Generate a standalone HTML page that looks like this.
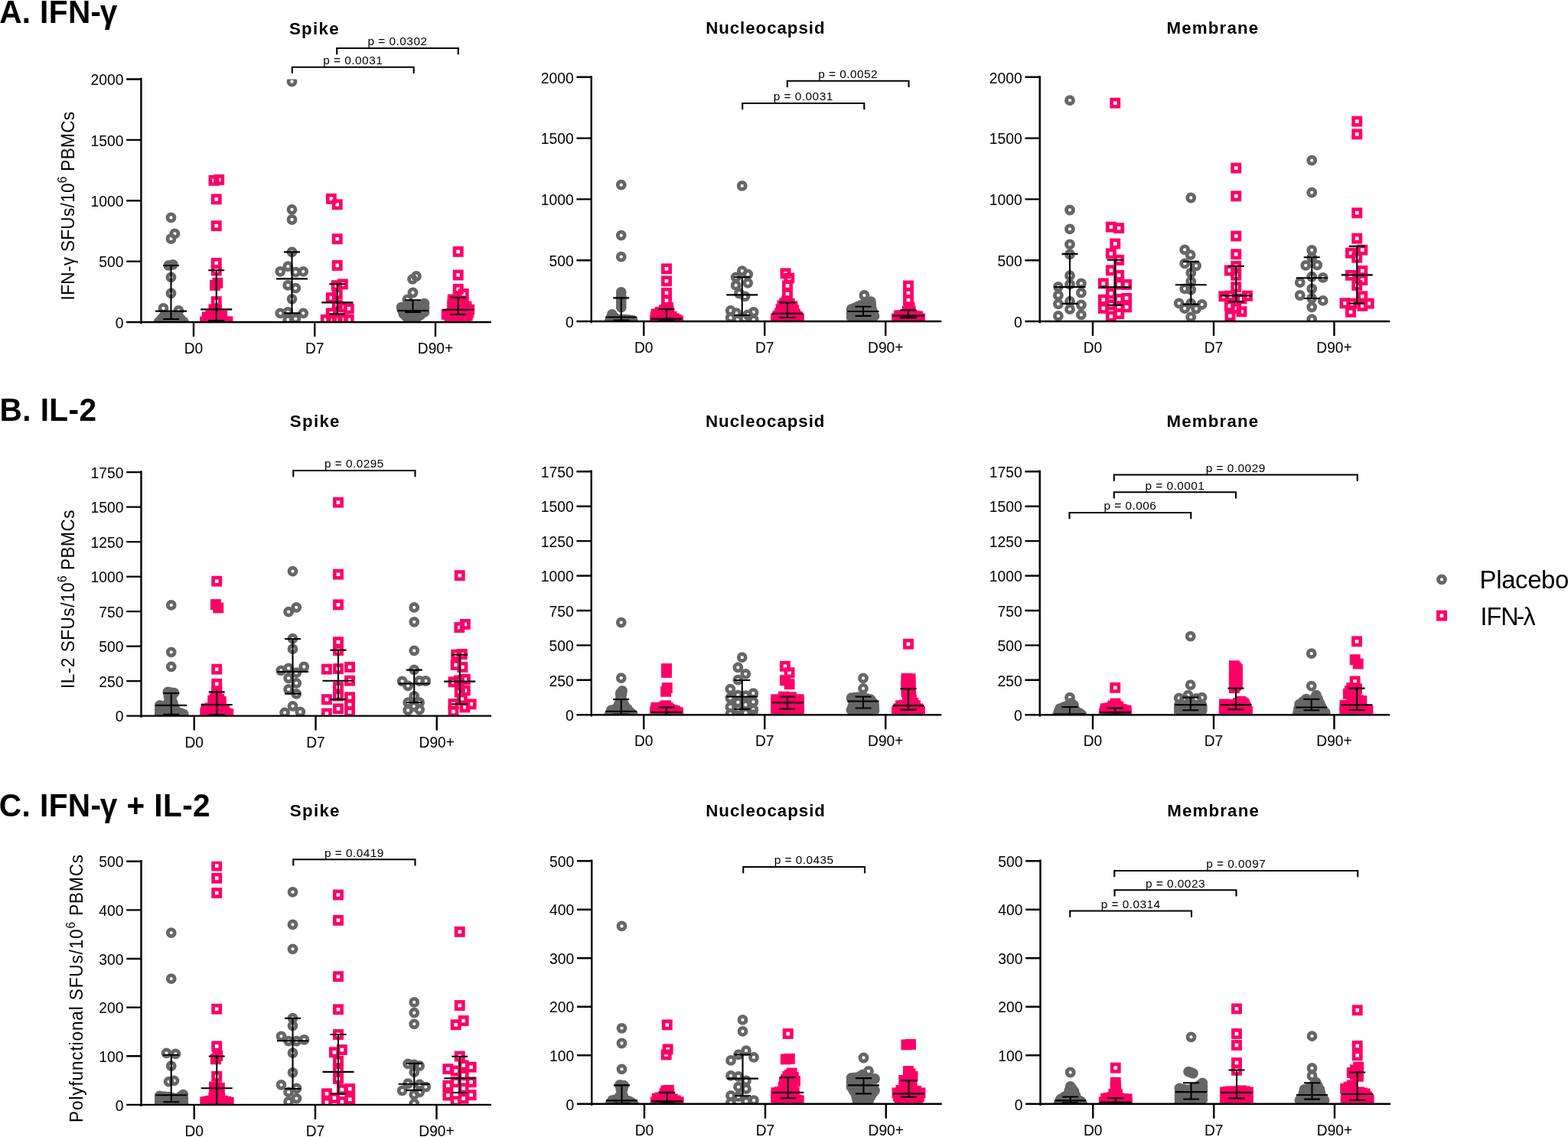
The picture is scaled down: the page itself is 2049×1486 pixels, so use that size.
<!DOCTYPE html>
<html lang="en">
<head>
<meta charset="utf-8">
<title>IFN-γ, IL-2 and polyfunctional SFUs by antigen</title>
<style>
html,body{margin:0;padding:0;background:#fff;}
body{width:2049px;height:1486px;overflow:hidden;}
svg{display:block;}
text{white-space:pre;}
</style>
</head>
<body>
<svg xmlns="http://www.w3.org/2000/svg" width="2049" height="1486" viewBox="0 0 2049 1486" font-family='"Liberation Sans", Arial, Helvetica, sans-serif' fill="#000">
<rect width="2049" height="1486" fill="#fff"/>
<clipPath id="cp0"><rect x="164.45" y="103.5" width="497.5" height="317.5"/></clipPath>
<g clip-path="url(#cp0)" fill="none">
<g stroke="#666666" stroke-width="4.75">
<circle cx="223.5" cy="284.4" r="4.52"/>
<circle cx="228.4" cy="305.4" r="4.52"/>
<circle cx="223.5" cy="312" r="4.52"/>
<circle cx="223.5" cy="362.3" r="4.52"/>
<circle cx="223.5" cy="383.3" r="4.52"/>
<circle cx="213.5" cy="402.9" r="4.52"/>
<circle cx="233.4" cy="406" r="4.52"/>
</g>
<g stroke="#666666" stroke-width="4.75" fill="#666666">
<circle cx="220.3" cy="346.9" r="4.52"/>
<circle cx="226" cy="345.8" r="4.52"/>
<circle cx="215" cy="412.4" r="4.52"/>
<circle cx="231.7" cy="412.4" r="4.52"/>
<circle cx="207.5" cy="420.9" r="4.52"/>
<circle cx="218.5" cy="419.9" r="4.52"/>
<circle cx="228.5" cy="419.9" r="4.52"/>
<circle cx="240" cy="420.9" r="4.52"/>
<circle cx="223.5" cy="416.4" r="4.52"/>
<circle cx="211.25" cy="416.65" r="4.52"/>
<circle cx="216.75" cy="416.15" r="4.52"/>
<circle cx="219.25" cy="414.4" r="4.52"/>
<circle cx="230.1" cy="416.15" r="4.52"/>
<circle cx="235.85" cy="416.65" r="4.52"/>
<circle cx="227.6" cy="414.4" r="4.52"/>
<circle cx="213" cy="420.4" r="4.52"/>
<circle cx="223.5" cy="419.9" r="4.52"/>
<circle cx="221" cy="418.15" r="4.52"/>
<circle cx="234.25" cy="420.4" r="4.52"/>
<circle cx="226" cy="418.15" r="4.52"/>
</g>
<g stroke="#FF0066" stroke-width="4.65">
<rect x="274.88" y="231.28" width="9.25" height="9.25"/>
<rect x="281.62" y="230.28" width="9.25" height="9.25"/>
<rect x="278.12" y="255.77" width="9.25" height="9.25"/>
<rect x="278.12" y="290.52" width="9.25" height="9.25"/>
<rect x="278.12" y="339.27" width="9.25" height="9.25"/>
<rect x="278.12" y="348.88" width="9.25" height="9.25"/>
<rect x="278.12" y="389.52" width="9.25" height="9.25"/>
</g>
<g stroke="#FF0066" stroke-width="4.65" fill="#FF0066">
<rect x="276.38" y="368.27" width="9.25" height="9.25"/>
<rect x="279.73" y="365.17" width="9.25" height="9.25"/>
<rect x="274.82" y="399.77" width="9.25" height="9.25"/>
<rect x="278.43" y="400.27" width="9.25" height="9.25"/>
<rect x="270.62" y="407.77" width="9.25" height="9.25"/>
<rect x="285.62" y="407.77" width="9.25" height="9.25"/>
<rect x="266.12" y="409.77" width="9.25" height="9.25"/>
<rect x="275.12" y="408.77" width="9.25" height="9.25"/>
<rect x="281.12" y="409.77" width="9.25" height="9.25"/>
<rect x="263.52" y="415.77" width="9.25" height="9.25"/>
<rect x="268.12" y="415.77" width="9.25" height="9.25"/>
<rect x="273.12" y="415.77" width="9.25" height="9.25"/>
<rect x="278.12" y="415.77" width="9.25" height="9.25"/>
<rect x="283.12" y="415.77" width="9.25" height="9.25"/>
<rect x="288.12" y="415.77" width="9.25" height="9.25"/>
<rect x="292.82" y="415.77" width="9.25" height="9.25"/>
</g>
<g stroke="#666666" stroke-width="4.75">
<circle cx="381.5" cy="106.7" r="4.52"/>
<circle cx="381.5" cy="273.8" r="4.52"/>
<circle cx="381.5" cy="287" r="4.52"/>
<circle cx="381.5" cy="329.4" r="4.52"/>
<circle cx="376.25" cy="348.15" r="4.52"/>
<circle cx="366.25" cy="354.8" r="4.52"/>
<circle cx="386.25" cy="355.65" r="4.52"/>
<circle cx="396.25" cy="354.8" r="4.52"/>
<circle cx="376.25" cy="372.9" r="4.52"/>
<circle cx="386.25" cy="376.65" r="4.52"/>
<circle cx="381.5" cy="390.8" r="4.52"/>
<circle cx="366.25" cy="409.4" r="4.52"/>
<circle cx="376.25" cy="407.9" r="4.52"/>
<circle cx="396.25" cy="409.4" r="4.52"/>
<circle cx="376.25" cy="417.9" r="4.52"/>
<circle cx="386.25" cy="416.65" r="4.52"/>
</g>
<g stroke="#FF0066" stroke-width="4.65">
<rect x="428.23" y="255.17" width="9.25" height="9.25"/>
<rect x="436.12" y="262.67" width="9.25" height="9.25"/>
<rect x="436.12" y="307.67" width="9.25" height="9.25"/>
<rect x="436.12" y="342.27" width="9.25" height="9.25"/>
<rect x="443.23" y="366.77" width="9.25" height="9.25"/>
<rect x="435.12" y="368.52" width="9.25" height="9.25"/>
<rect x="436.12" y="379.52" width="9.25" height="9.25"/>
<rect x="428.12" y="384.52" width="9.25" height="9.25"/>
<rect x="436.12" y="393.77" width="9.25" height="9.25"/>
<rect x="451.12" y="398.77" width="9.25" height="9.25"/>
<rect x="442.12" y="396.77" width="9.25" height="9.25"/>
<rect x="428.12" y="404.77" width="9.25" height="9.25"/>
<rect x="421.12" y="413.27" width="9.25" height="9.25"/>
<rect x="436.12" y="413.27" width="9.25" height="9.25"/>
<rect x="451.12" y="413.27" width="9.25" height="9.25"/>
<rect x="428.62" y="412.77" width="9.25" height="9.25"/>
<rect x="443.62" y="412.77" width="9.25" height="9.25"/>
</g>
<g stroke="#666666" stroke-width="4.75">
<circle cx="544" cy="361" r="4.52"/>
<circle cx="539" cy="364.8" r="4.52"/>
<circle cx="539.5" cy="382.5" r="4.52"/>
<circle cx="532.5" cy="391.4" r="4.52"/>
</g>
<g stroke="#666666" stroke-width="4.75" fill="#666666">
<circle cx="554.5" cy="396.65" r="4.52"/>
<circle cx="524.5" cy="401.65" r="4.52"/>
<circle cx="534.5" cy="398.4" r="4.52"/>
<circle cx="544.5" cy="400.4" r="4.52"/>
<circle cx="539.5" cy="405.4" r="4.52"/>
<circle cx="529.5" cy="407.4" r="4.52"/>
<circle cx="549.5" cy="406.4" r="4.52"/>
<circle cx="554.5" cy="407.9" r="4.52"/>
<circle cx="527.5" cy="410.4" r="4.52"/>
<circle cx="534.5" cy="417.3" r="4.52"/>
<circle cx="544.5" cy="415.4" r="4.52"/>
<circle cx="539.5" cy="411.4" r="4.52"/>
<circle cx="547.5" cy="411.4" r="4.52"/>
<circle cx="549.5" cy="398.52" r="4.52"/>
<circle cx="552" cy="401.52" r="4.52"/>
<circle cx="554.5" cy="402.28" r="4.52"/>
<circle cx="529.5" cy="400.02" r="4.52"/>
<circle cx="527" cy="404.52" r="4.52"/>
<circle cx="526" cy="406.02" r="4.52"/>
<circle cx="539.5" cy="399.4" r="4.52"/>
<circle cx="537" cy="401.9" r="4.52"/>
<circle cx="532" cy="402.9" r="4.52"/>
<circle cx="542" cy="402.9" r="4.52"/>
<circle cx="547" cy="403.4" r="4.52"/>
<circle cx="549.5" cy="404.15" r="4.52"/>
<circle cx="542" cy="405.9" r="4.52"/>
<circle cx="546" cy="405.9" r="4.52"/>
<circle cx="534.5" cy="406.4" r="4.52"/>
<circle cx="544.5" cy="405.9" r="4.52"/>
<circle cx="542" cy="410.4" r="4.52"/>
<circle cx="539.5" cy="408.4" r="4.52"/>
<circle cx="543.5" cy="408.4" r="4.52"/>
<circle cx="532" cy="412.35" r="4.52"/>
<circle cx="534.5" cy="409.4" r="4.52"/>
<circle cx="547" cy="410.9" r="4.52"/>
<circle cx="544.5" cy="408.9" r="4.52"/>
<circle cx="549.5" cy="411.65" r="4.52"/>
<circle cx="551" cy="409.65" r="4.52"/>
<circle cx="531" cy="413.85" r="4.52"/>
<circle cx="533.5" cy="410.9" r="4.52"/>
<circle cx="539.5" cy="416.35" r="4.52"/>
<circle cx="537" cy="414.35" r="4.52"/>
<circle cx="542" cy="413.4" r="4.52"/>
<circle cx="543.5" cy="411.4" r="4.52"/>
</g>
<g stroke="#FF0066" stroke-width="4.65">
<rect x="594.12" y="324.27" width="9.25" height="9.25"/>
<rect x="594.12" y="354.88" width="9.25" height="9.25"/>
<rect x="594.12" y="373.27" width="9.25" height="9.25"/>
<rect x="601.12" y="379.52" width="9.25" height="9.25"/>
</g>
<g stroke="#FF0066" stroke-width="4.65" fill="#FF0066">
<rect x="587.12" y="386.77" width="9.25" height="9.25"/>
<rect x="594.12" y="388.77" width="9.25" height="9.25"/>
<rect x="601.12" y="391.77" width="9.25" height="9.25"/>
<rect x="586.62" y="395.77" width="9.25" height="9.25"/>
<rect x="594.12" y="397.77" width="9.25" height="9.25"/>
<rect x="608.62" y="400.17" width="9.25" height="9.25"/>
<rect x="579.12" y="406.38" width="9.25" height="9.25"/>
<rect x="589.12" y="404.77" width="9.25" height="9.25"/>
<rect x="599.12" y="405.77" width="9.25" height="9.25"/>
<rect x="606.12" y="407.77" width="9.25" height="9.25"/>
<rect x="586.62" y="411.77" width="9.25" height="9.25"/>
<rect x="594.12" y="412.77" width="9.25" height="9.25"/>
<rect x="601.62" y="411.77" width="9.25" height="9.25"/>
<rect x="591.12" y="391.77" width="9.25" height="9.25"/>
<rect x="597.12" y="394.77" width="9.25" height="9.25"/>
<rect x="591.12" y="400.77" width="9.25" height="9.25"/>
<rect x="598.12" y="402.77" width="9.25" height="9.25"/>
<rect x="590.62" y="387.77" width="9.25" height="9.25"/>
<rect x="586.88" y="391.27" width="9.25" height="9.25"/>
<rect x="589.12" y="389.27" width="9.25" height="9.25"/>
<rect x="597.62" y="390.27" width="9.25" height="9.25"/>
<rect x="590.38" y="392.27" width="9.25" height="9.25"/>
<rect x="594.12" y="393.27" width="9.25" height="9.25"/>
<rect x="595.62" y="391.77" width="9.25" height="9.25"/>
<rect x="592.62" y="394.77" width="9.25" height="9.25"/>
<rect x="597.62" y="394.77" width="9.25" height="9.25"/>
<rect x="604.88" y="395.97" width="9.25" height="9.25"/>
<rect x="596.12" y="391.77" width="9.25" height="9.25"/>
<rect x="599.62" y="397.27" width="9.25" height="9.25"/>
<rect x="590.38" y="396.77" width="9.25" height="9.25"/>
<rect x="587.88" y="400.27" width="9.25" height="9.25"/>
<rect x="588.88" y="393.77" width="9.25" height="9.25"/>
<rect x="591.88" y="395.27" width="9.25" height="9.25"/>
<rect x="588.88" y="398.27" width="9.25" height="9.25"/>
<rect x="591.62" y="401.27" width="9.25" height="9.25"/>
<rect x="596.62" y="401.77" width="9.25" height="9.25"/>
<rect x="592.62" y="394.77" width="9.25" height="9.25"/>
<rect x="596.12" y="400.27" width="9.25" height="9.25"/>
<rect x="603.88" y="402.97" width="9.25" height="9.25"/>
<rect x="607.38" y="403.97" width="9.25" height="9.25"/>
<rect x="603.38" y="401.47" width="9.25" height="9.25"/>
<rect x="584.12" y="405.57" width="9.25" height="9.25"/>
<rect x="582.88" y="409.07" width="9.25" height="9.25"/>
<rect x="594.12" y="405.27" width="9.25" height="9.25"/>
<rect x="587.88" y="408.27" width="9.25" height="9.25"/>
<rect x="591.62" y="408.77" width="9.25" height="9.25"/>
<rect x="593.62" y="403.77" width="9.25" height="9.25"/>
<rect x="602.62" y="406.77" width="9.25" height="9.25"/>
<rect x="596.62" y="409.27" width="9.25" height="9.25"/>
<rect x="600.38" y="408.77" width="9.25" height="9.25"/>
<rect x="598.12" y="400.27" width="9.25" height="9.25"/>
<rect x="595.12" y="403.27" width="9.25" height="9.25"/>
<rect x="603.88" y="409.77" width="9.25" height="9.25"/>
<rect x="602.12" y="405.27" width="9.25" height="9.25"/>
<rect x="590.38" y="412.27" width="9.25" height="9.25"/>
<rect x="588.88" y="406.27" width="9.25" height="9.25"/>
<rect x="597.88" y="412.27" width="9.25" height="9.25"/>
<rect x="592.62" y="406.77" width="9.25" height="9.25"/>
<rect x="596.12" y="407.77" width="9.25" height="9.25"/>
<rect x="599.88" y="407.27" width="9.25" height="9.25"/>
<rect x="594.12" y="393.27" width="9.25" height="9.25"/>
<rect x="591.12" y="396.27" width="9.25" height="9.25"/>
<rect x="594.12" y="397.77" width="9.25" height="9.25"/>
<rect x="597.62" y="398.77" width="9.25" height="9.25"/>
<rect x="594.62" y="401.77" width="9.25" height="9.25"/>
</g>
</g>
<g stroke="#000" stroke-width="2.1" fill="none">
<path d="M203 406.65H244M223.5 347V417M213 347H234M213 417H234"/>
<path d="M262.25 404.4H303.25M282.75 353.3V419.15M272.25 353.3H293.25M272.25 419.15H293.25"/>
<path d="M361 364.4H402M381.5 329.4V409.4M371 329.4H392M371 409.4H392"/>
<path d="M420.25 395.4H461.25M440.75 371.3V410.4M430.25 371.3H451.25M430.25 410.4H451.25"/>
<path d="M519 406H560M539.5 392.3V407.9M529 392.3H550M529 407.9H550"/>
<path d="M578.25 404.8H619.25M598.75 388.8V411M588.25 388.8H609.25M588.25 411H609.25"/>
</g>
<g stroke="#000" stroke-width="2.4" fill="none">
<path d="M184.45 101.7V423.2M165.15 421H641.95M165.15 341.62H184.45M165.15 262.25H184.45M165.15 182.88H184.45M165.15 103.5H184.45M253 421V440M411.25 421V440M569 421V440"/>
</g>
<g font-size="19.3" text-anchor="end">
<text transform="translate(161.45 428.7) scale(1 1.06)">0</text>
<text transform="translate(161.45 349.32) scale(1 1.06)">500</text>
<text transform="translate(161.45 269.95) scale(1 1.06)">1000</text>
<text transform="translate(161.45 190.57) scale(1 1.06)">1500</text>
<text transform="translate(161.45 111.2) scale(1 1.06)">2000</text>
</g>
<g font-size="19.2" text-anchor="middle">
<text transform="translate(253 461.9) scale(1 1.05)">D0</text>
<text transform="translate(411.25 461.9) scale(1 1.05)">D7</text>
<text transform="translate(569 461.9) scale(1 1.05)">D90+</text>
</g>
<text transform="translate(410.9 44.7) scale(1 1.02)" font-size="22.3" text-anchor="middle" font-weight="bold" letter-spacing="1.3">Spike</text>
<text transform="translate(96.7 269) rotate(-90) scale(1 1.09)" font-size="22.6" text-anchor="middle" letter-spacing="0.3">IFN-γ SFUs/10<tspan dy="-9" font-size="15.5">6</tspan><tspan dy="9"> PBMCs</tspan></text>
<clipPath id="cp1"><rect x="752.75" y="100.8" width="497.5" height="319.2"/></clipPath>
<g clip-path="url(#cp1)" fill="none">
<g stroke="#666666" stroke-width="4.75">
<circle cx="811.75" cy="241.65" r="4.52"/>
<circle cx="811.75" cy="307.65" r="4.52"/>
<circle cx="811.75" cy="335.65" r="4.52"/>
</g>
<g stroke="#666666" stroke-width="4.75" fill="#666666">
<circle cx="811.75" cy="382" r="4.52"/>
<circle cx="811.75" cy="387.4" r="4.52"/>
<circle cx="811.75" cy="393.9" r="4.52"/>
<circle cx="811.75" cy="401.65" r="4.52"/>
<circle cx="799.85" cy="411" r="4.52"/>
<circle cx="796.75" cy="419.9" r="4.52"/>
<circle cx="803.75" cy="418.4" r="4.52"/>
<circle cx="811.75" cy="417.4" r="4.52"/>
<circle cx="819.75" cy="417.9" r="4.52"/>
<circle cx="826.75" cy="418.9" r="4.52"/>
<circle cx="807.75" cy="420.4" r="4.52"/>
<circle cx="815.75" cy="420.4" r="4.52"/>
<circle cx="823.75" cy="420.4" r="4.52"/>
<circle cx="799.75" cy="420.4" r="4.52"/>
<circle cx="811.75" cy="390.65" r="4.52"/>
<circle cx="811.75" cy="397.78" r="4.52"/>
<circle cx="798.3" cy="415.45" r="4.52"/>
<circle cx="801.8" cy="414.7" r="4.52"/>
<circle cx="803.8" cy="415.7" r="4.52"/>
<circle cx="799.8" cy="415.7" r="4.52"/>
<circle cx="800.25" cy="419.15" r="4.52"/>
<circle cx="802.25" cy="420.15" r="4.52"/>
<circle cx="807.75" cy="417.9" r="4.52"/>
<circle cx="809.75" cy="419.4" r="4.52"/>
<circle cx="815.75" cy="417.65" r="4.52"/>
<circle cx="817.75" cy="418.9" r="4.52"/>
<circle cx="805.75" cy="418.9" r="4.52"/>
<circle cx="823.25" cy="418.4" r="4.52"/>
<circle cx="813.75" cy="419.15" r="4.52"/>
<circle cx="821.25" cy="419.65" r="4.52"/>
<circle cx="811.75" cy="420.4" r="4.52"/>
<circle cx="803.75" cy="420.4" r="4.52"/>
<circle cx="819.75" cy="420.4" r="4.52"/>
</g>
<g stroke="#FF0066" stroke-width="4.65">
<rect x="866.38" y="346.67" width="9.25" height="9.25"/>
<rect x="866.38" y="362.67" width="9.25" height="9.25"/>
<rect x="866.38" y="378.27" width="9.25" height="9.25"/>
<rect x="866.38" y="388.27" width="9.25" height="9.25"/>
</g>
<g stroke="#FF0066" stroke-width="4.65" fill="#FF0066">
<rect x="868.38" y="397.27" width="9.25" height="9.25"/>
<rect x="863.38" y="400.77" width="9.25" height="9.25"/>
<rect x="852.98" y="405.77" width="9.25" height="9.25"/>
<rect x="861.38" y="405.77" width="9.25" height="9.25"/>
<rect x="869.38" y="406.27" width="9.25" height="9.25"/>
<rect x="851.38" y="414.27" width="9.25" height="9.25"/>
<rect x="858.88" y="414.27" width="9.25" height="9.25"/>
<rect x="866.38" y="414.27" width="9.25" height="9.25"/>
<rect x="873.88" y="413.77" width="9.25" height="9.25"/>
<rect x="881.38" y="414.77" width="9.25" height="9.25"/>
<rect x="876.38" y="411.77" width="9.25" height="9.25"/>
<rect x="856.38" y="411.77" width="9.25" height="9.25"/>
<rect x="865.88" y="399.02" width="9.25" height="9.25"/>
<rect x="864.88" y="401.52" width="9.25" height="9.25"/>
<rect x="868.88" y="401.77" width="9.25" height="9.25"/>
<rect x="858.17" y="403.27" width="9.25" height="9.25"/>
<rect x="866.38" y="403.52" width="9.25" height="9.25"/>
<rect x="857.17" y="405.77" width="9.25" height="9.25"/>
<rect x="852.17" y="410.02" width="9.25" height="9.25"/>
<rect x="855.92" y="410.02" width="9.25" height="9.25"/>
<rect x="854.67" y="408.77" width="9.25" height="9.25"/>
<rect x="865.38" y="406.02" width="9.25" height="9.25"/>
<rect x="860.12" y="410.02" width="9.25" height="9.25"/>
<rect x="863.88" y="410.02" width="9.25" height="9.25"/>
<rect x="858.88" y="408.77" width="9.25" height="9.25"/>
<rect x="867.88" y="410.27" width="9.25" height="9.25"/>
<rect x="871.62" y="410.02" width="9.25" height="9.25"/>
<rect x="872.88" y="409.02" width="9.25" height="9.25"/>
<rect x="855.12" y="414.27" width="9.25" height="9.25"/>
<rect x="853.88" y="413.02" width="9.25" height="9.25"/>
<rect x="862.62" y="414.27" width="9.25" height="9.25"/>
<rect x="870.12" y="414.02" width="9.25" height="9.25"/>
<rect x="871.38" y="413.02" width="9.25" height="9.25"/>
<rect x="861.38" y="413.02" width="9.25" height="9.25"/>
<rect x="877.62" y="414.27" width="9.25" height="9.25"/>
<rect x="878.88" y="413.27" width="9.25" height="9.25"/>
</g>
<g stroke="#666666" stroke-width="4.75">
<circle cx="969.75" cy="242.9" r="4.52"/>
<circle cx="969.75" cy="354.15" r="4.52"/>
<circle cx="977.25" cy="358.5" r="4.52"/>
<circle cx="961.65" cy="362.3" r="4.52"/>
<circle cx="977.25" cy="369.8" r="4.52"/>
<circle cx="961.65" cy="372.9" r="4.52"/>
<circle cx="966" cy="383.5" r="4.52"/>
<circle cx="973.5" cy="387.3" r="4.52"/>
<circle cx="954.75" cy="406" r="4.52"/>
<circle cx="962.25" cy="409.15" r="4.52"/>
<circle cx="984.75" cy="407.9" r="4.52"/>
<circle cx="977.25" cy="411.4" r="4.52"/>
<circle cx="954.75" cy="415.4" r="4.52"/>
<circle cx="963.75" cy="417.9" r="4.52"/>
<circle cx="972.75" cy="416.4" r="4.52"/>
<circle cx="984.75" cy="417.9" r="4.52"/>
</g>
<g stroke="#FF0066" stroke-width="4.65">
<rect x="1021.88" y="352.67" width="9.25" height="9.25"/>
<rect x="1026.62" y="358.88" width="9.25" height="9.25"/>
<rect x="1024.38" y="368.88" width="9.25" height="9.25"/>
<rect x="1024.38" y="379.52" width="9.25" height="9.25"/>
</g>
<g stroke="#FF0066" stroke-width="4.65" fill="#FF0066">
<rect x="1023.38" y="388.77" width="9.25" height="9.25"/>
<rect x="1017.88" y="394.77" width="9.25" height="9.25"/>
<rect x="1030.88" y="395.77" width="9.25" height="9.25"/>
<rect x="1024.38" y="398.77" width="9.25" height="9.25"/>
<rect x="1014.38" y="404.77" width="9.25" height="9.25"/>
<rect x="1029.38" y="403.77" width="9.25" height="9.25"/>
<rect x="1034.38" y="405.77" width="9.25" height="9.25"/>
<rect x="1009.38" y="412.27" width="9.25" height="9.25"/>
<rect x="1016.88" y="410.77" width="9.25" height="9.25"/>
<rect x="1024.38" y="411.77" width="9.25" height="9.25"/>
<rect x="1031.88" y="411.27" width="9.25" height="9.25"/>
<rect x="1039.38" y="412.27" width="9.25" height="9.25"/>
<rect x="1021.38" y="406.77" width="9.25" height="9.25"/>
<rect x="1020.62" y="391.77" width="9.25" height="9.25"/>
<rect x="1027.12" y="392.27" width="9.25" height="9.25"/>
<rect x="1023.88" y="393.77" width="9.25" height="9.25"/>
<rect x="1021.12" y="396.77" width="9.25" height="9.25"/>
<rect x="1016.12" y="399.77" width="9.25" height="9.25"/>
<rect x="1019.62" y="400.77" width="9.25" height="9.25"/>
<rect x="1027.62" y="397.27" width="9.25" height="9.25"/>
<rect x="1030.12" y="399.77" width="9.25" height="9.25"/>
<rect x="1032.62" y="400.77" width="9.25" height="9.25"/>
<rect x="1019.38" y="401.77" width="9.25" height="9.25"/>
<rect x="1026.88" y="401.27" width="9.25" height="9.25"/>
<rect x="1029.38" y="402.27" width="9.25" height="9.25"/>
<rect x="1022.88" y="402.77" width="9.25" height="9.25"/>
<rect x="1011.88" y="408.52" width="9.25" height="9.25"/>
<rect x="1015.62" y="407.77" width="9.25" height="9.25"/>
<rect x="1019.38" y="408.27" width="9.25" height="9.25"/>
<rect x="1017.88" y="405.77" width="9.25" height="9.25"/>
<rect x="1026.88" y="407.77" width="9.25" height="9.25"/>
<rect x="1030.62" y="407.52" width="9.25" height="9.25"/>
<rect x="1025.38" y="405.27" width="9.25" height="9.25"/>
<rect x="1029.38" y="408.77" width="9.25" height="9.25"/>
<rect x="1033.12" y="408.52" width="9.25" height="9.25"/>
<rect x="1036.88" y="409.02" width="9.25" height="9.25"/>
<rect x="1013.12" y="411.52" width="9.25" height="9.25"/>
<rect x="1020.62" y="411.27" width="9.25" height="9.25"/>
<rect x="1019.12" y="408.77" width="9.25" height="9.25"/>
<rect x="1028.12" y="411.52" width="9.25" height="9.25"/>
<rect x="1022.88" y="409.27" width="9.25" height="9.25"/>
<rect x="1035.62" y="411.77" width="9.25" height="9.25"/>
<rect x="1026.62" y="409.02" width="9.25" height="9.25"/>
</g>
<g stroke="#666666" stroke-width="4.75">
<circle cx="1129.4" cy="386" r="4.52"/>
</g>
<g stroke="#666666" stroke-width="4.75" fill="#666666">
<circle cx="1138" cy="394.15" r="4.52"/>
<circle cx="1129.4" cy="397.4" r="4.52"/>
<circle cx="1121.25" cy="400.4" r="4.52"/>
<circle cx="1112.5" cy="404.15" r="4.52"/>
<circle cx="1138.75" cy="402.9" r="4.52"/>
<circle cx="1112.5" cy="414.15" r="4.52"/>
<circle cx="1142.5" cy="412.9" r="4.52"/>
<circle cx="1121.25" cy="416.4" r="4.52"/>
<circle cx="1129.4" cy="417.4" r="4.52"/>
<circle cx="1137" cy="416.4" r="4.52"/>
<circle cx="1121.25" cy="408.4" r="4.52"/>
<circle cx="1132" cy="407.4" r="4.52"/>
<circle cx="1117" cy="409.4" r="4.52"/>
<circle cx="1140" cy="407.4" r="4.52"/>
<circle cx="1133.7" cy="395.78" r="4.52"/>
<circle cx="1138.38" cy="398.52" r="4.52"/>
<circle cx="1125.33" cy="398.9" r="4.52"/>
<circle cx="1134.08" cy="400.15" r="4.52"/>
<circle cx="1130.7" cy="402.4" r="4.52"/>
<circle cx="1116.88" cy="402.28" r="4.52"/>
<circle cx="1121.25" cy="404.4" r="4.52"/>
<circle cx="1119.12" cy="404.9" r="4.52"/>
<circle cx="1112.5" cy="409.15" r="4.52"/>
<circle cx="1116.88" cy="406.28" r="4.52"/>
<circle cx="1114.75" cy="406.78" r="4.52"/>
<circle cx="1140.62" cy="407.9" r="4.52"/>
<circle cx="1135.38" cy="405.15" r="4.52"/>
<circle cx="1116.88" cy="415.28" r="4.52"/>
<circle cx="1116.88" cy="411.28" r="4.52"/>
<circle cx="1114.75" cy="411.78" r="4.52"/>
<circle cx="1139.75" cy="414.65" r="4.52"/>
<circle cx="1137.25" cy="410.15" r="4.52"/>
<circle cx="1141.25" cy="410.15" r="4.52"/>
<circle cx="1125.33" cy="416.9" r="4.52"/>
<circle cx="1121.25" cy="412.4" r="4.52"/>
<circle cx="1119.12" cy="412.9" r="4.52"/>
<circle cx="1133.2" cy="416.9" r="4.52"/>
<circle cx="1125.33" cy="412.9" r="4.52"/>
<circle cx="1130.7" cy="412.4" r="4.52"/>
<circle cx="1134.5" cy="411.9" r="4.52"/>
<circle cx="1138.5" cy="411.9" r="4.52"/>
<circle cx="1126.62" cy="407.9" r="4.52"/>
<circle cx="1136" cy="407.4" r="4.52"/>
</g>
<g stroke="#FF0066" stroke-width="4.65">
<rect x="1182.38" y="368.88" width="9.25" height="9.25"/>
<rect x="1182.38" y="378.27" width="9.25" height="9.25"/>
<rect x="1182.38" y="387.67" width="9.25" height="9.25"/>
</g>
<g stroke="#FF0066" stroke-width="4.65" fill="#FF0066">
<rect x="1183.88" y="396.77" width="9.25" height="9.25"/>
<rect x="1170.38" y="407.77" width="9.25" height="9.25"/>
<rect x="1178.38" y="407.27" width="9.25" height="9.25"/>
<rect x="1186.38" y="407.77" width="9.25" height="9.25"/>
<rect x="1194.38" y="408.77" width="9.25" height="9.25"/>
<rect x="1167.38" y="411.77" width="9.25" height="9.25"/>
<rect x="1174.88" y="412.27" width="9.25" height="9.25"/>
<rect x="1182.38" y="411.77" width="9.25" height="9.25"/>
<rect x="1189.88" y="412.27" width="9.25" height="9.25"/>
<rect x="1197.38" y="411.77" width="9.25" height="9.25"/>
<rect x="1172.38" y="413.77" width="9.25" height="9.25"/>
<rect x="1192.38" y="413.77" width="9.25" height="9.25"/>
<rect x="1182.38" y="403.77" width="9.25" height="9.25"/>
<rect x="1181.12" y="402.02" width="9.25" height="9.25"/>
<rect x="1185.12" y="402.27" width="9.25" height="9.25"/>
<rect x="1183.12" y="400.27" width="9.25" height="9.25"/>
<rect x="1174.38" y="407.52" width="9.25" height="9.25"/>
<rect x="1172.62" y="410.02" width="9.25" height="9.25"/>
<rect x="1171.38" y="410.77" width="9.25" height="9.25"/>
<rect x="1182.38" y="407.52" width="9.25" height="9.25"/>
<rect x="1172.88" y="409.52" width="9.25" height="9.25"/>
<rect x="1176.62" y="409.77" width="9.25" height="9.25"/>
<rect x="1180.38" y="409.52" width="9.25" height="9.25"/>
<rect x="1175.38" y="410.52" width="9.25" height="9.25"/>
<rect x="1190.38" y="408.27" width="9.25" height="9.25"/>
<rect x="1180.62" y="410.02" width="9.25" height="9.25"/>
<rect x="1184.38" y="409.77" width="9.25" height="9.25"/>
<rect x="1188.12" y="410.02" width="9.25" height="9.25"/>
<rect x="1191.88" y="409.77" width="9.25" height="9.25"/>
<rect x="1189.38" y="410.77" width="9.25" height="9.25"/>
<rect x="1184.38" y="405.77" width="9.25" height="9.25"/>
<rect x="1188.38" y="410.27" width="9.25" height="9.25"/>
<rect x="1192.12" y="410.52" width="9.25" height="9.25"/>
<rect x="1171.12" y="412.02" width="9.25" height="9.25"/>
<rect x="1178.62" y="412.02" width="9.25" height="9.25"/>
<rect x="1178.62" y="408.02" width="9.25" height="9.25"/>
<rect x="1186.12" y="412.02" width="9.25" height="9.25"/>
<rect x="1177.38" y="412.77" width="9.25" height="9.25"/>
<rect x="1187.38" y="412.77" width="9.25" height="9.25"/>
<rect x="1182.38" y="407.77" width="9.25" height="9.25"/>
<rect x="1193.62" y="412.02" width="9.25" height="9.25"/>
<rect x="1186.12" y="408.02" width="9.25" height="9.25"/>
</g>
</g>
<g stroke="#000" stroke-width="2.1" fill="none">
<path d="M791.25 414.5H832.25M811.75 389.4V418.5M801.25 389.4H822.25M801.25 418.5H822.25"/>
<path d="M850.5 416.65H891.5M871 404.15V419.4M860.5 404.15H881.5M860.5 419.4H881.5"/>
<path d="M949.25 385.4H990.25M969.75 362.3V412M959.25 362.3H980.25M959.25 412H980.25"/>
<path d="M1008.5 409.8H1049.5M1029 395.4V415M1018.5 395.4H1039.5M1018.5 415H1039.5"/>
<path d="M1107.5 407H1148.5M1128 400.8V412.9M1117.5 400.8H1138.5M1117.5 412.9H1138.5"/>
<path d="M1166.5 412.65H1207.5M1187 405.4V415.4M1176.5 405.4H1197.5M1176.5 415.4H1197.5"/>
</g>
<g stroke="#000" stroke-width="2.4" fill="none">
<path d="M772.75 99V422.2M753.45 420H1230.25M753.45 340.2H772.75M753.45 260.4H772.75M753.45 180.6H772.75M753.45 100.8H772.75M841.25 420V439M999.25 420V439M1157.25 420V439"/>
</g>
<g font-size="19.3" text-anchor="end">
<text transform="translate(749.75 427.7) scale(1 1.06)">0</text>
<text transform="translate(749.75 347.9) scale(1 1.06)">500</text>
<text transform="translate(749.75 268.1) scale(1 1.06)">1000</text>
<text transform="translate(749.75 188.3) scale(1 1.06)">1500</text>
<text transform="translate(749.75 108.5) scale(1 1.06)">2000</text>
</g>
<g font-size="19.2" text-anchor="middle">
<text transform="translate(841.25 460.9) scale(1 1.05)">D0</text>
<text transform="translate(999.25 460.9) scale(1 1.05)">D7</text>
<text transform="translate(1157.25 460.9) scale(1 1.05)">D90+</text>
</g>
<text transform="translate(1000.3 43.6) scale(1 1.02)" font-size="22.3" text-anchor="middle" font-weight="bold" letter-spacing="0.95">Nucleocapsid</text>
<clipPath id="cp2"><rect x="1338.75" y="100.8" width="497.5" height="319.2"/></clipPath>
<g clip-path="url(#cp2)" fill="none">
<g stroke="#666666" stroke-width="4.75">
<circle cx="1398" cy="131.15" r="4.52"/>
<circle cx="1398" cy="274.5" r="4.52"/>
<circle cx="1398" cy="299.4" r="4.52"/>
<circle cx="1398" cy="319.4" r="4.52"/>
<circle cx="1398" cy="332.3" r="4.52"/>
<circle cx="1398" cy="360.15" r="4.52"/>
<circle cx="1398" cy="371.65" r="4.52"/>
<circle cx="1412.9" cy="370.4" r="4.52"/>
<circle cx="1382.9" cy="374.8" r="4.52"/>
<circle cx="1412.9" cy="382.65" r="4.52"/>
<circle cx="1382.9" cy="386" r="4.52"/>
<circle cx="1398" cy="393.9" r="4.52"/>
<circle cx="1382.9" cy="397.3" r="4.52"/>
<circle cx="1412.9" cy="398.5" r="4.52"/>
<circle cx="1398" cy="404.15" r="4.52"/>
<circle cx="1412.9" cy="411.4" r="4.52"/>
<circle cx="1382.9" cy="412.9" r="4.52"/>
</g>
<g stroke="#FF0066" stroke-width="4.65">
<rect x="1452.62" y="130.03" width="9.25" height="9.25"/>
<rect x="1447.22" y="292.02" width="9.25" height="9.25"/>
<rect x="1457.53" y="293.52" width="9.25" height="9.25"/>
<rect x="1452.62" y="313.88" width="9.25" height="9.25"/>
<rect x="1447.22" y="326.77" width="9.25" height="9.25"/>
<rect x="1457.53" y="335.17" width="9.25" height="9.25"/>
<rect x="1447.22" y="348.67" width="9.25" height="9.25"/>
<rect x="1457.53" y="355.17" width="9.25" height="9.25"/>
<rect x="1437.22" y="365.77" width="9.25" height="9.25"/>
<rect x="1457.53" y="367.02" width="9.25" height="9.25"/>
<rect x="1467.53" y="367.27" width="9.25" height="9.25"/>
<rect x="1447.22" y="378.88" width="9.25" height="9.25"/>
<rect x="1457.53" y="386.38" width="9.25" height="9.25"/>
<rect x="1467.53" y="385.17" width="9.25" height="9.25"/>
<rect x="1437.22" y="387.02" width="9.25" height="9.25"/>
<rect x="1437.22" y="398.27" width="9.25" height="9.25"/>
<rect x="1457.53" y="396.38" width="9.25" height="9.25"/>
<rect x="1467.53" y="396.77" width="9.25" height="9.25"/>
<rect x="1447.22" y="393.77" width="9.25" height="9.25"/>
<rect x="1457.53" y="405.52" width="9.25" height="9.25"/>
<rect x="1447.22" y="408.88" width="9.25" height="9.25"/>
</g>
<g stroke="#666666" stroke-width="4.75">
<circle cx="1556.25" cy="258.5" r="4.52"/>
<circle cx="1548.15" cy="326.4" r="4.52"/>
<circle cx="1555.65" cy="333.15" r="4.52"/>
<circle cx="1548.15" cy="344.4" r="4.52"/>
<circle cx="1563.15" cy="347.3" r="4.52"/>
<circle cx="1556.25" cy="356.65" r="4.52"/>
<circle cx="1556.25" cy="367.9" r="4.52"/>
<circle cx="1548.15" cy="377.3" r="4.52"/>
<circle cx="1556.25" cy="378.5" r="4.52"/>
<circle cx="1540.65" cy="396.4" r="4.52"/>
<circle cx="1556.25" cy="396.65" r="4.52"/>
<circle cx="1570.65" cy="397.9" r="4.52"/>
<circle cx="1548.15" cy="403.15" r="4.52"/>
<circle cx="1563.15" cy="403.5" r="4.52"/>
<circle cx="1556.25" cy="414.4" r="4.52"/>
</g>
<g stroke="#FF0066" stroke-width="4.65">
<rect x="1610.62" y="215.03" width="9.25" height="9.25"/>
<rect x="1610.62" y="251.68" width="9.25" height="9.25"/>
<rect x="1610.62" y="303.88" width="9.25" height="9.25"/>
<rect x="1610.62" y="327.67" width="9.25" height="9.25"/>
<rect x="1610.62" y="343.27" width="9.25" height="9.25"/>
<rect x="1602.22" y="348.88" width="9.25" height="9.25"/>
<rect x="1610.62" y="355.17" width="9.25" height="9.25"/>
<rect x="1610.62" y="370.52" width="9.25" height="9.25"/>
<rect x="1594.72" y="382.67" width="9.25" height="9.25"/>
<rect x="1602.88" y="382.02" width="9.25" height="9.25"/>
<rect x="1625.38" y="382.02" width="9.25" height="9.25"/>
<rect x="1617.88" y="385.77" width="9.25" height="9.25"/>
<rect x="1602.22" y="395.17" width="9.25" height="9.25"/>
<rect x="1610.62" y="398.27" width="9.25" height="9.25"/>
<rect x="1617.88" y="402.67" width="9.25" height="9.25"/>
<rect x="1602.88" y="408.27" width="9.25" height="9.25"/>
</g>
<g stroke="#666666" stroke-width="4.75">
<circle cx="1714.25" cy="209.65" r="4.52"/>
<circle cx="1714.25" cy="251.65" r="4.52"/>
<circle cx="1714.25" cy="327" r="4.52"/>
<circle cx="1714.25" cy="336.65" r="4.52"/>
<circle cx="1706.25" cy="346.9" r="4.52"/>
<circle cx="1721.25" cy="346.4" r="4.52"/>
<circle cx="1714.25" cy="361.65" r="4.52"/>
<circle cx="1728.75" cy="362.9" r="4.52"/>
<circle cx="1698.75" cy="369.15" r="4.52"/>
<circle cx="1714.25" cy="377.3" r="4.52"/>
<circle cx="1698.75" cy="386" r="4.52"/>
<circle cx="1714.25" cy="389.8" r="4.52"/>
<circle cx="1728.75" cy="392.9" r="4.52"/>
<circle cx="1714.25" cy="401.3" r="4.52"/>
<circle cx="1714.25" cy="417.3" r="4.52"/>
</g>
<g stroke="#FF0066" stroke-width="4.65">
<rect x="1768.62" y="154.03" width="9.25" height="9.25"/>
<rect x="1768.62" y="170.78" width="9.25" height="9.25"/>
<rect x="1768.62" y="273.67" width="9.25" height="9.25"/>
<rect x="1768.62" y="307.02" width="9.25" height="9.25"/>
<rect x="1775.72" y="322.02" width="9.25" height="9.25"/>
<rect x="1760.38" y="326.02" width="9.25" height="9.25"/>
<rect x="1768.62" y="332.02" width="9.25" height="9.25"/>
<rect x="1775.72" y="349.27" width="9.25" height="9.25"/>
<rect x="1760.38" y="355.17" width="9.25" height="9.25"/>
<rect x="1775.72" y="361.38" width="9.25" height="9.25"/>
<rect x="1768.62" y="368.27" width="9.25" height="9.25"/>
<rect x="1775.72" y="382.67" width="9.25" height="9.25"/>
<rect x="1752.88" y="391.67" width="9.25" height="9.25"/>
<rect x="1761.62" y="392.02" width="9.25" height="9.25"/>
<rect x="1784.12" y="392.02" width="9.25" height="9.25"/>
<rect x="1775.72" y="395.17" width="9.25" height="9.25"/>
<rect x="1760.38" y="403.27" width="9.25" height="9.25"/>
</g>
</g>
<g stroke="#000" stroke-width="2.1" fill="none">
<path d="M1377.5 375.15H1418.5M1398 331.9V396.9M1387.5 331.9H1408.5M1387.5 396.9H1408.5"/>
<path d="M1436.75 375.4H1477.75M1457.25 339.8V398.9M1446.75 339.8H1467.75M1446.75 398.9H1467.75"/>
<path d="M1535.75 372.3H1576.75M1556.25 341.9V397.65M1545.75 341.9H1566.75M1545.75 397.65H1566.75"/>
<path d="M1594.75 386.4H1635.75M1615.25 347.9V394.4M1604.75 347.9H1625.75M1604.75 394.4H1625.75"/>
<path d="M1693.75 363.3H1734.75M1714.25 336.3V390M1703.75 336.3H1724.75M1703.75 390H1724.75"/>
<path d="M1752.75 359.4H1793.75M1773.25 321.9V396.65M1762.75 321.9H1783.75M1762.75 396.65H1783.75"/>
</g>
<g stroke="#000" stroke-width="2.4" fill="none">
<path d="M1358.75 99V422.2M1339.45 420H1816.25M1339.45 340.2H1358.75M1339.45 260.4H1358.75M1339.45 180.6H1358.75M1339.45 100.8H1358.75M1428 420V439M1586 420V439M1743.5 420V439"/>
</g>
<g font-size="19.3" text-anchor="end">
<text transform="translate(1335.75 427.7) scale(1 1.06)">0</text>
<text transform="translate(1335.75 347.9) scale(1 1.06)">500</text>
<text transform="translate(1335.75 268.1) scale(1 1.06)">1000</text>
<text transform="translate(1335.75 188.3) scale(1 1.06)">1500</text>
<text transform="translate(1335.75 108.5) scale(1 1.06)">2000</text>
</g>
<g font-size="19.2" text-anchor="middle">
<text transform="translate(1428 460.9) scale(1 1.05)">D0</text>
<text transform="translate(1586 460.9) scale(1 1.05)">D7</text>
<text transform="translate(1743.5 460.9) scale(1 1.05)">D90+</text>
</g>
<text transform="translate(1584.9 43.6) scale(1 1.02)" font-size="22.3" text-anchor="middle" font-weight="bold" letter-spacing="1.15">Membrane</text>
<clipPath id="cp3"><rect x="164.5" y="617.15" width="497.5" height="318.45"/></clipPath>
<g clip-path="url(#cp3)" fill="none">
<g stroke="#666666" stroke-width="4.75">
<circle cx="223.75" cy="790.9" r="4.52"/>
<circle cx="223.75" cy="852.3" r="4.52"/>
<circle cx="223.75" cy="871.3" r="4.52"/>
</g>
<g stroke="#666666" stroke-width="4.75" fill="#666666">
<circle cx="219.35" cy="904.4" r="4.52"/>
<circle cx="227.5" cy="905.65" r="4.52"/>
<circle cx="221.25" cy="914.4" r="4.52"/>
<circle cx="225.75" cy="918.4" r="4.52"/>
<circle cx="208.75" cy="921.9" r="4.52"/>
<circle cx="217.75" cy="924.4" r="4.52"/>
<circle cx="227.75" cy="926.4" r="4.52"/>
<circle cx="208.75" cy="932.4" r="4.52"/>
<circle cx="216.25" cy="930.4" r="4.52"/>
<circle cx="223.75" cy="931.4" r="4.52"/>
<circle cx="231.75" cy="930.4" r="4.52"/>
<circle cx="239.75" cy="933.4" r="4.52"/>
<circle cx="213.75" cy="934.4" r="4.52"/>
<circle cx="233.75" cy="934.4" r="4.52"/>
<circle cx="223.42" cy="905.02" r="4.52"/>
<circle cx="220.3" cy="909.4" r="4.52"/>
<circle cx="224.37" cy="910.02" r="4.52"/>
<circle cx="223.5" cy="916.4" r="4.52"/>
<circle cx="219.5" cy="919.4" r="4.52"/>
<circle cx="221.75" cy="921.4" r="4.52"/>
<circle cx="226.75" cy="922.4" r="4.52"/>
<circle cx="213.25" cy="923.15" r="4.52"/>
<circle cx="208.75" cy="927.15" r="4.52"/>
<circle cx="212.5" cy="926.15" r="4.52"/>
<circle cx="222.75" cy="925.4" r="4.52"/>
<circle cx="213.25" cy="928.4" r="4.52"/>
<circle cx="217" cy="927.4" r="4.52"/>
<circle cx="220.75" cy="927.9" r="4.52"/>
<circle cx="215.75" cy="929.4" r="4.52"/>
<circle cx="222" cy="928.4" r="4.52"/>
<circle cx="225.75" cy="928.9" r="4.52"/>
<circle cx="229.75" cy="928.4" r="4.52"/>
<circle cx="230.75" cy="930.4" r="4.52"/>
<circle cx="212.5" cy="931.4" r="4.52"/>
<circle cx="220" cy="930.9" r="4.52"/>
<circle cx="227.75" cy="930.9" r="4.52"/>
<circle cx="218.75" cy="932.9" r="4.52"/>
<circle cx="228.75" cy="932.9" r="4.52"/>
<circle cx="235.75" cy="931.9" r="4.52"/>
<circle cx="236.75" cy="933.9" r="4.52"/>
</g>
<g stroke="#FF0066" stroke-width="4.65">
<rect x="278.62" y="755.02" width="9.25" height="9.25"/>
<rect x="278.62" y="870.02" width="9.25" height="9.25"/>
<rect x="278.62" y="889.17" width="9.25" height="9.25"/>
</g>
<g stroke="#FF0066" stroke-width="4.65" fill="#FF0066">
<rect x="277.23" y="785.38" width="9.25" height="9.25"/>
<rect x="280.62" y="789.77" width="9.25" height="9.25"/>
<rect x="278.62" y="898.52" width="9.25" height="9.25"/>
<rect x="278.62" y="905.77" width="9.25" height="9.25"/>
<rect x="273.62" y="911.02" width="9.25" height="9.25"/>
<rect x="284.12" y="912.27" width="9.25" height="9.25"/>
<rect x="265.38" y="921.77" width="9.25" height="9.25"/>
<rect x="274.62" y="919.77" width="9.25" height="9.25"/>
<rect x="283.62" y="920.77" width="9.25" height="9.25"/>
<rect x="263.62" y="927.77" width="9.25" height="9.25"/>
<rect x="271.12" y="926.77" width="9.25" height="9.25"/>
<rect x="278.62" y="927.77" width="9.25" height="9.25"/>
<rect x="286.12" y="926.77" width="9.25" height="9.25"/>
<rect x="293.62" y="928.27" width="9.25" height="9.25"/>
<rect x="278.62" y="902.15" width="9.25" height="9.25"/>
<rect x="276.12" y="908.39" width="9.25" height="9.25"/>
<rect x="281.38" y="909.02" width="9.25" height="9.25"/>
<rect x="278.88" y="911.65" width="9.25" height="9.25"/>
<rect x="274.12" y="915.39" width="9.25" height="9.25"/>
<rect x="279.38" y="916.02" width="9.25" height="9.25"/>
<rect x="283.88" y="916.52" width="9.25" height="9.25"/>
<rect x="270" y="920.77" width="9.25" height="9.25"/>
<rect x="264.5" y="924.77" width="9.25" height="9.25"/>
<rect x="268.25" y="924.27" width="9.25" height="9.25"/>
<rect x="279.12" y="920.27" width="9.25" height="9.25"/>
<rect x="272.88" y="923.27" width="9.25" height="9.25"/>
<rect x="276.62" y="923.77" width="9.25" height="9.25"/>
<rect x="281.12" y="924.27" width="9.25" height="9.25"/>
<rect x="284.88" y="923.77" width="9.25" height="9.25"/>
<rect x="288.62" y="924.52" width="9.25" height="9.25"/>
<rect x="267.38" y="927.27" width="9.25" height="9.25"/>
<rect x="274.88" y="927.27" width="9.25" height="9.25"/>
<rect x="282.38" y="927.27" width="9.25" height="9.25"/>
<rect x="289.88" y="927.52" width="9.25" height="9.25"/>
</g>
<g stroke="#666666" stroke-width="4.75">
<circle cx="382.5" cy="746.65" r="4.52"/>
<circle cx="387.25" cy="793.8" r="4.52"/>
<circle cx="377.1" cy="799.65" r="4.52"/>
<circle cx="382.5" cy="834.65" r="4.52"/>
<circle cx="382.5" cy="848.15" r="4.52"/>
<circle cx="397.25" cy="871.5" r="4.52"/>
<circle cx="377.1" cy="873.4" r="4.52"/>
<circle cx="367.25" cy="876.3" r="4.52"/>
<circle cx="387.25" cy="879.15" r="4.52"/>
<circle cx="377.1" cy="886.3" r="4.52"/>
<circle cx="387.25" cy="892.8" r="4.52"/>
<circle cx="377.1" cy="900.9" r="4.52"/>
<circle cx="387.25" cy="906.9" r="4.52"/>
<circle cx="382.5" cy="922.8" r="4.52"/>
<circle cx="372.1" cy="931.3" r="4.52"/>
<circle cx="392.25" cy="930.4" r="4.52"/>
</g>
<g stroke="#FF0066" stroke-width="4.65">
<rect x="437.38" y="652.02" width="9.25" height="9.25"/>
<rect x="437.38" y="746.02" width="9.25" height="9.25"/>
<rect x="437.38" y="785.67" width="9.25" height="9.25"/>
<rect x="437.38" y="834.52" width="9.25" height="9.25"/>
<rect x="437.38" y="845.38" width="9.25" height="9.25"/>
<rect x="422.27" y="870.02" width="9.25" height="9.25"/>
<rect x="437.38" y="869.38" width="9.25" height="9.25"/>
<rect x="452.38" y="867.27" width="9.25" height="9.25"/>
<rect x="452.38" y="885.02" width="9.25" height="9.25"/>
<rect x="437.38" y="893.52" width="9.25" height="9.25"/>
<rect x="437.38" y="904.77" width="9.25" height="9.25"/>
<rect x="422.27" y="909.52" width="9.25" height="9.25"/>
<rect x="452.38" y="906.67" width="9.25" height="9.25"/>
<rect x="452.38" y="916.27" width="9.25" height="9.25"/>
<rect x="437.38" y="921.67" width="9.25" height="9.25"/>
<rect x="422.27" y="927.88" width="9.25" height="9.25"/>
<rect x="452.38" y="925.77" width="9.25" height="9.25"/>
</g>
<g stroke="#666666" stroke-width="4.75">
<circle cx="541.25" cy="793.9" r="4.52"/>
<circle cx="541.25" cy="812.8" r="4.52"/>
<circle cx="541.25" cy="850.4" r="4.52"/>
<circle cx="541.25" cy="875.4" r="4.52"/>
<circle cx="525.65" cy="890.3" r="4.52"/>
<circle cx="548.15" cy="890" r="4.52"/>
<circle cx="556.25" cy="890" r="4.52"/>
<circle cx="533.15" cy="896.3" r="4.52"/>
<circle cx="541.25" cy="910" r="4.52"/>
<circle cx="533.15" cy="918.15" r="4.52"/>
<circle cx="548.15" cy="918.15" r="4.52"/>
<circle cx="533.15" cy="928.4" r="4.52"/>
<circle cx="548.15" cy="927.5" r="4.52"/>
<circle cx="541.25" cy="923.15" r="4.52"/>
</g>
<g stroke="#FF0066" stroke-width="4.65">
<rect x="596.12" y="747.52" width="9.25" height="9.25"/>
<rect x="603.23" y="811.27" width="9.25" height="9.25"/>
<rect x="595.73" y="815.38" width="9.25" height="9.25"/>
<rect x="591.62" y="851.02" width="9.25" height="9.25"/>
<rect x="599.12" y="850.38" width="9.25" height="9.25"/>
<rect x="591.02" y="864.38" width="9.25" height="9.25"/>
<rect x="599.73" y="867.27" width="9.25" height="9.25"/>
<rect x="587.88" y="886.67" width="9.25" height="9.25"/>
<rect x="595.38" y="884.77" width="9.25" height="9.25"/>
<rect x="603.23" y="883.27" width="9.25" height="9.25"/>
<rect x="603.23" y="897.88" width="9.25" height="9.25"/>
<rect x="596.12" y="899.77" width="9.25" height="9.25"/>
<rect x="599.12" y="908.52" width="9.25" height="9.25"/>
<rect x="587.88" y="915.38" width="9.25" height="9.25"/>
<rect x="611.02" y="915.67" width="9.25" height="9.25"/>
<rect x="602.88" y="919.77" width="9.25" height="9.25"/>
<rect x="587.88" y="925.38" width="9.25" height="9.25"/>
</g>
</g>
<g stroke="#000" stroke-width="2.1" fill="none">
<path d="M203.25 921.9H244.25M223.75 906V933.8M213.25 906H234.25M213.25 933.8H234.25"/>
<path d="M262.75 921H303.75M283.25 904.4V934.4M272.75 904.4H293.75M272.75 934.4H293.75"/>
<path d="M362 877.9H403M382.5 835V906.65M372 835H393M372 906.65H393"/>
<path d="M421.5 889.8H462.5M442 849.65V914.15M431.5 849.65H452.5M431.5 914.15H452.5"/>
<path d="M520.75 893.5H561.75M541.25 875.65V918.15M530.75 875.65H551.75M530.75 918.15H551.75"/>
<path d="M580.25 890.65H621.25M600.75 855.65V920.3M590.25 855.65H611.25M590.25 920.3H611.25"/>
</g>
<g stroke="#000" stroke-width="2.4" fill="none">
<path d="M184.5 615.35V937.8M165.2 935.6H642M165.2 890.11H184.5M165.2 844.61H184.5M165.2 799.12H184.5M165.2 753.63H184.5M165.2 708.14H184.5M165.2 662.64H184.5M165.2 617.15H184.5M253.75 935.6V954.6M412.5 935.6V954.6M570.75 935.6V954.6"/>
</g>
<g font-size="19.3" text-anchor="end">
<text transform="translate(161.5 943.3) scale(1 1.06)">0</text>
<text transform="translate(161.5 897.81) scale(1 1.06)">250</text>
<text transform="translate(161.5 852.31) scale(1 1.06)">500</text>
<text transform="translate(161.5 806.82) scale(1 1.06)">750</text>
<text transform="translate(161.5 761.33) scale(1 1.06)">1000</text>
<text transform="translate(161.5 715.84) scale(1 1.06)">1250</text>
<text transform="translate(161.5 670.34) scale(1 1.06)">1500</text>
<text transform="translate(161.5 624.85) scale(1 1.06)">1750</text>
</g>
<g font-size="19.2" text-anchor="middle">
<text transform="translate(253.75 976.5) scale(1 1.05)">D0</text>
<text transform="translate(412.5 976.5) scale(1 1.05)">D7</text>
<text transform="translate(570.75 976.5) scale(1 1.05)">D90+</text>
</g>
<text transform="translate(411.8 557.8) scale(1 1.02)" font-size="22.3" text-anchor="middle" font-weight="bold" letter-spacing="1.3">Spike</text>
<text transform="translate(96.7 783) rotate(-90) scale(1 1.09)" font-size="22.6" text-anchor="middle" letter-spacing="0.5">IL-2 SFUs/10<tspan dy="-9" font-size="15.5">6</tspan><tspan dy="9"> PBMCs</tspan></text>
<clipPath id="cp4"><rect x="752.75" y="616.25" width="497.5" height="318"/></clipPath>
<g clip-path="url(#cp4)" fill="none">
<g stroke="#666666" stroke-width="4.75">
<circle cx="811.75" cy="813.6" r="4.52"/>
<circle cx="811.75" cy="886.1" r="4.52"/>
</g>
<g stroke="#666666" stroke-width="4.75" fill="#666666">
<circle cx="813.15" cy="902.95" r="4.52"/>
<circle cx="810.65" cy="906.1" r="4.52"/>
<circle cx="811.75" cy="912.2" r="4.52"/>
<circle cx="808.75" cy="920.2" r="4.52"/>
<circle cx="816.25" cy="922.2" r="4.52"/>
<circle cx="811.75" cy="917.2" r="4.52"/>
<circle cx="798.75" cy="928.2" r="4.52"/>
<circle cx="805.75" cy="927.2" r="4.52"/>
<circle cx="817.75" cy="928.2" r="4.52"/>
<circle cx="796.75" cy="933.2" r="4.52"/>
<circle cx="803.75" cy="932.7" r="4.52"/>
<circle cx="811.75" cy="932.2" r="4.52"/>
<circle cx="819.75" cy="933.2" r="4.52"/>
<circle cx="826.75" cy="933.7" r="4.52"/>
<circle cx="823.75" cy="931.2" r="4.52"/>
<circle cx="812.45" cy="907.58" r="4.52"/>
<circle cx="811.2" cy="909.15" r="4.52"/>
<circle cx="811.2" cy="911.65" r="4.52"/>
<circle cx="810.25" cy="916.2" r="4.52"/>
<circle cx="814" cy="917.2" r="4.52"/>
<circle cx="812.5" cy="921.2" r="4.52"/>
<circle cx="807.25" cy="923.7" r="4.52"/>
<circle cx="813.25" cy="924.2" r="4.52"/>
<circle cx="810.25" cy="926.2" r="4.52"/>
<circle cx="814" cy="919.7" r="4.52"/>
<circle cx="811" cy="924.7" r="4.52"/>
<circle cx="817" cy="925.2" r="4.52"/>
<circle cx="814" cy="927.2" r="4.52"/>
<circle cx="818" cy="927.7" r="4.52"/>
<circle cx="820" cy="926.7" r="4.52"/>
<circle cx="808.75" cy="922.2" r="4.52"/>
<circle cx="802.25" cy="927.7" r="4.52"/>
<circle cx="801.25" cy="930.45" r="4.52"/>
<circle cx="811.75" cy="927.7" r="4.52"/>
<circle cx="801.25" cy="930.2" r="4.52"/>
<circle cx="804.75" cy="929.95" r="4.52"/>
<circle cx="808.75" cy="929.7" r="4.52"/>
<circle cx="814.75" cy="930.2" r="4.52"/>
<circle cx="822.25" cy="930.95" r="4.52"/>
<circle cx="820.75" cy="929.7" r="4.52"/>
<circle cx="800.25" cy="932.95" r="4.52"/>
<circle cx="807.75" cy="932.45" r="4.52"/>
<circle cx="815.75" cy="932.7" r="4.52"/>
<circle cx="817.75" cy="931.7" r="4.52"/>
<circle cx="823.25" cy="933.45" r="4.52"/>
</g>
<g stroke="#FF0066" stroke-width="4.65" fill="#FF0066">
<rect x="866.38" y="869.38" width="9.25" height="9.25"/>
<rect x="866.38" y="874.28" width="9.25" height="9.25"/>
<rect x="867.17" y="894.38" width="9.25" height="9.25"/>
<rect x="865.48" y="899.12" width="9.25" height="9.25"/>
<rect x="865.38" y="917.58" width="9.25" height="9.25"/>
<rect x="852.88" y="920.18" width="9.25" height="9.25"/>
<rect x="860.38" y="920.58" width="9.25" height="9.25"/>
<rect x="870.38" y="922.58" width="9.25" height="9.25"/>
<rect x="851.38" y="926.58" width="9.25" height="9.25"/>
<rect x="858.88" y="926.58" width="9.25" height="9.25"/>
<rect x="866.38" y="926.58" width="9.25" height="9.25"/>
<rect x="873.88" y="926.58" width="9.25" height="9.25"/>
<rect x="881.38" y="926.58" width="9.25" height="9.25"/>
<rect x="877.38" y="924.58" width="9.25" height="9.25"/>
<rect x="855.38" y="928.58" width="9.25" height="9.25"/>
<rect x="869.38" y="928.58" width="9.25" height="9.25"/>
<rect x="862.88" y="919.08" width="9.25" height="9.25"/>
<rect x="867.88" y="920.08" width="9.25" height="9.25"/>
<rect x="862.12" y="922.08" width="9.25" height="9.25"/>
<rect x="865.88" y="922.08" width="9.25" height="9.25"/>
<rect x="869.62" y="922.08" width="9.25" height="9.25"/>
<rect x="867.38" y="923.08" width="9.25" height="9.25"/>
<rect x="856.62" y="920.38" width="9.25" height="9.25"/>
<rect x="852.12" y="923.38" width="9.25" height="9.25"/>
<rect x="855.88" y="923.38" width="9.25" height="9.25"/>
<rect x="854.12" y="924.38" width="9.25" height="9.25"/>
<rect x="865.38" y="921.58" width="9.25" height="9.25"/>
<rect x="855.88" y="923.58" width="9.25" height="9.25"/>
<rect x="859.62" y="923.58" width="9.25" height="9.25"/>
<rect x="863.38" y="923.58" width="9.25" height="9.25"/>
<rect x="857.88" y="924.58" width="9.25" height="9.25"/>
<rect x="864.88" y="924.58" width="9.25" height="9.25"/>
<rect x="864.62" y="924.58" width="9.25" height="9.25"/>
<rect x="868.38" y="924.58" width="9.25" height="9.25"/>
<rect x="875.88" y="924.58" width="9.25" height="9.25"/>
<rect x="873.88" y="923.58" width="9.25" height="9.25"/>
<rect x="869.88" y="925.58" width="9.25" height="9.25"/>
<rect x="855.12" y="926.58" width="9.25" height="9.25"/>
<rect x="862.62" y="926.58" width="9.25" height="9.25"/>
<rect x="864.12" y="927.58" width="9.25" height="9.25"/>
<rect x="870.12" y="926.58" width="9.25" height="9.25"/>
<rect x="871.88" y="925.58" width="9.25" height="9.25"/>
<rect x="860.88" y="927.58" width="9.25" height="9.25"/>
<rect x="877.62" y="926.58" width="9.25" height="9.25"/>
<rect x="875.38" y="927.58" width="9.25" height="9.25"/>
<rect x="873.38" y="926.58" width="9.25" height="9.25"/>
</g>
<g stroke="#666666" stroke-width="4.75">
<circle cx="969.75" cy="859.2" r="4.52"/>
<circle cx="964.35" cy="872.3" r="4.52"/>
<circle cx="974.35" cy="880.8" r="4.52"/>
<circle cx="964.35" cy="888.6" r="4.52"/>
<circle cx="954.35" cy="900.7" r="4.52"/>
<circle cx="984.35" cy="906.1" r="4.52"/>
<circle cx="964.35" cy="908.6" r="4.52"/>
<circle cx="974.35" cy="909.2" r="4.52"/>
<circle cx="954.35" cy="912.3" r="4.52"/>
<circle cx="984.35" cy="917.3" r="4.52"/>
<circle cx="964.35" cy="917.95" r="4.52"/>
<circle cx="974.35" cy="921.1" r="4.52"/>
<circle cx="954.35" cy="923.95" r="4.52"/>
<circle cx="984.35" cy="927.3" r="4.52"/>
<circle cx="964.35" cy="926.7" r="4.52"/>
<circle cx="974.35" cy="931.7" r="4.52"/>
<circle cx="954.35" cy="933.2" r="4.52"/>
<circle cx="984.35" cy="934.2" r="4.52"/>
</g>
<g stroke="#FF0066" stroke-width="4.65">
<rect x="1021.28" y="866.18" width="9.25" height="9.25"/>
<rect x="1026.97" y="874.58" width="9.25" height="9.25"/>
</g>
<g stroke="#FF0066" stroke-width="4.65" fill="#FF0066">
<rect x="1021.28" y="884.58" width="9.25" height="9.25"/>
<rect x="1026.97" y="889.58" width="9.25" height="9.25"/>
<rect x="1009.58" y="909.58" width="9.25" height="9.25"/>
<rect x="1019.38" y="905.98" width="9.25" height="9.25"/>
<rect x="1029.38" y="906.58" width="9.25" height="9.25"/>
<rect x="1039.08" y="909.58" width="9.25" height="9.25"/>
<rect x="1009.58" y="916.58" width="9.25" height="9.25"/>
<rect x="1019.38" y="915.58" width="9.25" height="9.25"/>
<rect x="1029.38" y="916.58" width="9.25" height="9.25"/>
<rect x="1039.08" y="916.58" width="9.25" height="9.25"/>
<rect x="1009.58" y="924.58" width="9.25" height="9.25"/>
<rect x="1019.38" y="924.08" width="9.25" height="9.25"/>
<rect x="1029.38" y="924.58" width="9.25" height="9.25"/>
<rect x="1039.08" y="924.58" width="9.25" height="9.25"/>
<rect x="1024.38" y="910.58" width="9.25" height="9.25"/>
<rect x="1014.38" y="910.08" width="9.25" height="9.25"/>
<rect x="1034.38" y="910.08" width="9.25" height="9.25"/>
<rect x="1014.38" y="914.58" width="9.25" height="9.25"/>
<rect x="1024.38" y="915.08" width="9.25" height="9.25"/>
<rect x="1034.38" y="914.58" width="9.25" height="9.25"/>
<rect x="1014.38" y="919.58" width="9.25" height="9.25"/>
<rect x="1024.38" y="920.08" width="9.25" height="9.25"/>
<rect x="1034.38" y="919.58" width="9.25" height="9.25"/>
<rect x="1009.58" y="920.58" width="9.25" height="9.25"/>
<rect x="1039.08" y="920.58" width="9.25" height="9.25"/>
<rect x="1014.38" y="924.58" width="9.25" height="9.25"/>
<rect x="1024.38" y="924.58" width="9.25" height="9.25"/>
<rect x="1034.38" y="924.58" width="9.25" height="9.25"/>
<rect x="1009.58" y="913.08" width="9.25" height="9.25"/>
<rect x="1039.08" y="913.08" width="9.25" height="9.25"/>
</g>
<g stroke="#666666" stroke-width="4.75">
<circle cx="1128" cy="886.45" r="4.52"/>
<circle cx="1128" cy="899.8" r="4.52"/>
</g>
<g stroke="#666666" stroke-width="4.75" fill="#666666">
<circle cx="1112.5" cy="912.2" r="4.52"/>
<circle cx="1121.25" cy="911.2" r="4.52"/>
<circle cx="1130" cy="912.2" r="4.52"/>
<circle cx="1137.5" cy="914.2" r="4.52"/>
<circle cx="1116" cy="919.2" r="4.52"/>
<circle cx="1125" cy="920.2" r="4.52"/>
<circle cx="1134" cy="919.2" r="4.52"/>
<circle cx="1142" cy="920.2" r="4.52"/>
<circle cx="1112.5" cy="927.95" r="4.52"/>
<circle cx="1121.25" cy="927.2" r="4.52"/>
<circle cx="1132.5" cy="928.2" r="4.52"/>
<circle cx="1142.5" cy="928.6" r="4.52"/>
<circle cx="1128" cy="924.2" r="4.52"/>
<circle cx="1116.88" cy="911.7" r="4.52"/>
<circle cx="1114.25" cy="915.7" r="4.52"/>
<circle cx="1125.62" cy="911.7" r="4.52"/>
<circle cx="1118.62" cy="915.2" r="4.52"/>
<circle cx="1123.12" cy="915.7" r="4.52"/>
<circle cx="1133.75" cy="913.2" r="4.52"/>
<circle cx="1127.5" cy="916.2" r="4.52"/>
<circle cx="1132" cy="915.7" r="4.52"/>
<circle cx="1129" cy="918.2" r="4.52"/>
<circle cx="1135.75" cy="916.7" r="4.52"/>
<circle cx="1139.75" cy="917.2" r="4.52"/>
<circle cx="1120.5" cy="919.7" r="4.52"/>
<circle cx="1114.25" cy="923.58" r="4.52"/>
<circle cx="1118.62" cy="923.2" r="4.52"/>
<circle cx="1129.5" cy="919.7" r="4.52"/>
<circle cx="1123.12" cy="923.7" r="4.52"/>
<circle cx="1128.75" cy="924.2" r="4.52"/>
<circle cx="1138" cy="919.7" r="4.52"/>
<circle cx="1133.25" cy="923.7" r="4.52"/>
<circle cx="1131" cy="921.7" r="4.52"/>
<circle cx="1137.25" cy="924.2" r="4.52"/>
<circle cx="1142.25" cy="924.4" r="4.52"/>
<circle cx="1116.88" cy="927.58" r="4.52"/>
<circle cx="1126.88" cy="927.7" r="4.52"/>
<circle cx="1124.62" cy="925.7" r="4.52"/>
<circle cx="1137.5" cy="928.4" r="4.52"/>
<circle cx="1130.25" cy="926.2" r="4.52"/>
</g>
<g stroke="#FF0066" stroke-width="4.65">
<rect x="1182.38" y="837.08" width="9.25" height="9.25"/>
</g>
<g stroke="#FF0066" stroke-width="4.65" fill="#FF0066">
<rect x="1179.88" y="882.08" width="9.25" height="9.25"/>
<rect x="1184.88" y="882.58" width="9.25" height="9.25"/>
<rect x="1179.88" y="890.58" width="9.25" height="9.25"/>
<rect x="1184.88" y="891.58" width="9.25" height="9.25"/>
<rect x="1179.88" y="899.58" width="9.25" height="9.25"/>
<rect x="1184.88" y="900.58" width="9.25" height="9.25"/>
<rect x="1182.38" y="906.58" width="9.25" height="9.25"/>
<rect x="1186.38" y="910.58" width="9.25" height="9.25"/>
<rect x="1172.38" y="917.58" width="9.25" height="9.25"/>
<rect x="1182.38" y="916.58" width="9.25" height="9.25"/>
<rect x="1191.38" y="917.58" width="9.25" height="9.25"/>
<rect x="1167.38" y="925.58" width="9.25" height="9.25"/>
<rect x="1174.88" y="924.58" width="9.25" height="9.25"/>
<rect x="1182.38" y="925.58" width="9.25" height="9.25"/>
<rect x="1189.88" y="924.58" width="9.25" height="9.25"/>
<rect x="1197.38" y="925.58" width="9.25" height="9.25"/>
<rect x="1179.88" y="886.33" width="9.25" height="9.25"/>
<rect x="1182.38" y="886.83" width="9.25" height="9.25"/>
<rect x="1182.38" y="886.58" width="9.25" height="9.25"/>
<rect x="1184.88" y="887.08" width="9.25" height="9.25"/>
<rect x="1179.88" y="895.08" width="9.25" height="9.25"/>
<rect x="1182.38" y="895.58" width="9.25" height="9.25"/>
<rect x="1182.38" y="895.58" width="9.25" height="9.25"/>
<rect x="1184.88" y="896.08" width="9.25" height="9.25"/>
<rect x="1181.12" y="903.08" width="9.25" height="9.25"/>
<rect x="1183.62" y="903.58" width="9.25" height="9.25"/>
<rect x="1185.62" y="905.58" width="9.25" height="9.25"/>
<rect x="1184.38" y="908.58" width="9.25" height="9.25"/>
<rect x="1182.38" y="911.58" width="9.25" height="9.25"/>
<rect x="1184.38" y="913.58" width="9.25" height="9.25"/>
<rect x="1188.88" y="914.08" width="9.25" height="9.25"/>
<rect x="1177.38" y="917.08" width="9.25" height="9.25"/>
<rect x="1169.88" y="921.58" width="9.25" height="9.25"/>
<rect x="1173.62" y="921.08" width="9.25" height="9.25"/>
<rect x="1186.88" y="917.08" width="9.25" height="9.25"/>
<rect x="1178.62" y="920.58" width="9.25" height="9.25"/>
<rect x="1182.38" y="921.08" width="9.25" height="9.25"/>
<rect x="1186.12" y="920.58" width="9.25" height="9.25"/>
<rect x="1186.88" y="921.58" width="9.25" height="9.25"/>
<rect x="1190.62" y="921.08" width="9.25" height="9.25"/>
<rect x="1194.38" y="921.58" width="9.25" height="9.25"/>
<rect x="1171.12" y="925.08" width="9.25" height="9.25"/>
<rect x="1178.62" y="925.08" width="9.25" height="9.25"/>
<rect x="1186.12" y="925.08" width="9.25" height="9.25"/>
<rect x="1193.62" y="925.08" width="9.25" height="9.25"/>
</g>
</g>
<g stroke="#000" stroke-width="2.1" fill="none">
<path d="M791.25 929.8H832.25M811.75 913.95V933.6M801.25 913.95H822.25M801.25 933.6H822.25"/>
<path d="M850.5 930.7H891.5M871 924.45V933.95M860.5 924.45H881.5M860.5 933.95H881.5"/>
<path d="M949.25 910.45H990.25M969.75 888.95V926.7M959.25 888.95H980.25M959.25 926.7H980.25"/>
<path d="M1008.5 918.2H1049.5M1029 910.45V926.45M1018.5 910.45H1039.5M1018.5 926.45H1039.5"/>
<path d="M1107.5 916.45H1148.5M1128 910.45V925.45M1117.5 910.45H1138.5M1117.5 925.45H1138.5"/>
<path d="M1166.5 922.1H1207.5M1187 900.1V927.6M1176.5 900.1H1197.5M1176.5 927.6H1197.5"/>
</g>
<g stroke="#000" stroke-width="2.4" fill="none">
<path d="M772.75 614.45V936.45M753.45 934.25H1230.25M753.45 888.82H772.75M753.45 843.39H772.75M753.45 797.96H772.75M753.45 752.54H772.75M753.45 707.11H772.75M753.45 661.68H772.75M753.45 616.25H772.75M841.25 934.25V953.25M999.25 934.25V953.25M1157.25 934.25V953.25"/>
</g>
<g font-size="19.3" text-anchor="end">
<text transform="translate(749.75 941.95) scale(1 1.06)">0</text>
<text transform="translate(749.75 896.52) scale(1 1.06)">250</text>
<text transform="translate(749.75 851.09) scale(1 1.06)">500</text>
<text transform="translate(749.75 805.66) scale(1 1.06)">750</text>
<text transform="translate(749.75 760.24) scale(1 1.06)">1000</text>
<text transform="translate(749.75 714.81) scale(1 1.06)">1250</text>
<text transform="translate(749.75 669.38) scale(1 1.06)">1500</text>
<text transform="translate(749.75 623.95) scale(1 1.06)">1750</text>
</g>
<g font-size="19.2" text-anchor="middle">
<text transform="translate(841.25 975.15) scale(1 1.05)">D0</text>
<text transform="translate(999.25 975.15) scale(1 1.05)">D7</text>
<text transform="translate(1157.25 975.15) scale(1 1.05)">D90+</text>
</g>
<text transform="translate(1000.2 557.8) scale(1 1.02)" font-size="22.3" text-anchor="middle" font-weight="bold" letter-spacing="0.95">Nucleocapsid</text>
<clipPath id="cp5"><rect x="1338.75" y="616.25" width="497.5" height="318"/></clipPath>
<g clip-path="url(#cp5)" fill="none">
<g stroke="#666666" stroke-width="4.75">
<circle cx="1398" cy="911.7" r="4.52"/>
</g>
<g stroke="#666666" stroke-width="4.75" fill="#666666">
<circle cx="1400" cy="918.7" r="4.52"/>
<circle cx="1403" cy="921.7" r="4.52"/>
<circle cx="1395" cy="922.2" r="4.52"/>
<circle cx="1385" cy="926.2" r="4.52"/>
<circle cx="1392" cy="926.2" r="4.52"/>
<circle cx="1383" cy="932.7" r="4.52"/>
<circle cx="1390" cy="931.2" r="4.52"/>
<circle cx="1398" cy="930.2" r="4.52"/>
<circle cx="1405" cy="930.2" r="4.52"/>
<circle cx="1411" cy="932.2" r="4.52"/>
<circle cx="1413.5" cy="934.2" r="4.52"/>
<circle cx="1382" cy="934.7" r="4.52"/>
<circle cx="1408" cy="933.2" r="4.52"/>
<circle cx="1387" cy="933.2" r="4.52"/>
<circle cx="1401" cy="933.2" r="4.52"/>
<circle cx="1395" cy="933.2" r="4.52"/>
<circle cx="1397.5" cy="920.45" r="4.52"/>
<circle cx="1396" cy="922.45" r="4.52"/>
<circle cx="1399" cy="924.45" r="4.52"/>
<circle cx="1399" cy="921.95" r="4.52"/>
<circle cx="1397.5" cy="923.95" r="4.52"/>
<circle cx="1400.5" cy="925.95" r="4.52"/>
<circle cx="1404" cy="925.95" r="4.52"/>
<circle cx="1402" cy="927.45" r="4.52"/>
<circle cx="1390" cy="924.2" r="4.52"/>
<circle cx="1392.5" cy="926.7" r="4.52"/>
<circle cx="1396.5" cy="926.2" r="4.52"/>
<circle cx="1395" cy="927.7" r="4.52"/>
<circle cx="1388.5" cy="926.2" r="4.52"/>
<circle cx="1384" cy="929.45" r="4.52"/>
<circle cx="1387.5" cy="928.7" r="4.52"/>
<circle cx="1383.5" cy="930.45" r="4.52"/>
<circle cx="1386" cy="929.7" r="4.52"/>
<circle cx="1390" cy="929.7" r="4.52"/>
<circle cx="1387.5" cy="929.45" r="4.52"/>
<circle cx="1395" cy="928.2" r="4.52"/>
<circle cx="1389.5" cy="929.7" r="4.52"/>
<circle cx="1396.5" cy="929.7" r="4.52"/>
<circle cx="1393.5" cy="929.7" r="4.52"/>
<circle cx="1386.5" cy="931.95" r="4.52"/>
<circle cx="1389" cy="932.95" r="4.52"/>
<circle cx="1394" cy="930.7" r="4.52"/>
<circle cx="1386" cy="932.95" r="4.52"/>
<circle cx="1395.5" cy="932.2" r="4.52"/>
<circle cx="1401.5" cy="930.2" r="4.52"/>
<circle cx="1403" cy="931.7" r="4.52"/>
<circle cx="1392.5" cy="931.7" r="4.52"/>
<circle cx="1408" cy="931.2" r="4.52"/>
<circle cx="1409.25" cy="932.2" r="4.52"/>
<circle cx="1400" cy="931.7" r="4.52"/>
<circle cx="1406" cy="932.7" r="4.52"/>
<circle cx="1410.75" cy="933.7" r="4.52"/>
<circle cx="1404.5" cy="933.2" r="4.52"/>
<circle cx="1391" cy="933.2" r="4.52"/>
<circle cx="1398" cy="933.2" r="4.52"/>
</g>
<g stroke="#FF0066" stroke-width="4.65">
<rect x="1452.62" y="894.18" width="9.25" height="9.25"/>
</g>
<g stroke="#FF0066" stroke-width="4.65" fill="#FF0066">
<rect x="1452.92" y="914.88" width="9.25" height="9.25"/>
<rect x="1440.12" y="921.58" width="9.25" height="9.25"/>
<rect x="1446.62" y="920.58" width="9.25" height="9.25"/>
<rect x="1455.62" y="921.08" width="9.25" height="9.25"/>
<rect x="1467.12" y="924.08" width="9.25" height="9.25"/>
<rect x="1460.62" y="923.58" width="9.25" height="9.25"/>
<rect x="1438.12" y="928.58" width="9.25" height="9.25"/>
<rect x="1442.62" y="927.58" width="9.25" height="9.25"/>
<rect x="1449.62" y="926.58" width="9.25" height="9.25"/>
<rect x="1456.62" y="927.08" width="9.25" height="9.25"/>
<rect x="1463.62" y="927.58" width="9.25" height="9.25"/>
<rect x="1467.12" y="928.58" width="9.25" height="9.25"/>
<rect x="1452.62" y="923.58" width="9.25" height="9.25"/>
<rect x="1440.12" y="925.58" width="9.25" height="9.25"/>
<rect x="1449.78" y="917.73" width="9.25" height="9.25"/>
<rect x="1454.28" y="917.98" width="9.25" height="9.25"/>
<rect x="1456.78" y="919.23" width="9.25" height="9.25"/>
<rect x="1451.28" y="920.73" width="9.25" height="9.25"/>
<rect x="1452.78" y="919.23" width="9.25" height="9.25"/>
<rect x="1443.38" y="921.08" width="9.25" height="9.25"/>
<rect x="1439.12" y="925.08" width="9.25" height="9.25"/>
<rect x="1441.38" y="924.58" width="9.25" height="9.25"/>
<rect x="1444.88" y="924.08" width="9.25" height="9.25"/>
<rect x="1451.12" y="920.83" width="9.25" height="9.25"/>
<rect x="1442.38" y="924.58" width="9.25" height="9.25"/>
<rect x="1444.62" y="924.08" width="9.25" height="9.25"/>
<rect x="1448.12" y="923.58" width="9.25" height="9.25"/>
<rect x="1451.62" y="923.83" width="9.25" height="9.25"/>
<rect x="1449.62" y="922.08" width="9.25" height="9.25"/>
<rect x="1443.38" y="923.08" width="9.25" height="9.25"/>
<rect x="1461.38" y="922.58" width="9.25" height="9.25"/>
<rect x="1458.12" y="922.33" width="9.25" height="9.25"/>
<rect x="1452.62" y="923.83" width="9.25" height="9.25"/>
<rect x="1456.12" y="924.08" width="9.25" height="9.25"/>
<rect x="1459.62" y="924.33" width="9.25" height="9.25"/>
<rect x="1463.88" y="923.83" width="9.25" height="9.25"/>
<rect x="1461.88" y="925.58" width="9.25" height="9.25"/>
<rect x="1455.12" y="925.08" width="9.25" height="9.25"/>
<rect x="1463.88" y="926.08" width="9.25" height="9.25"/>
<rect x="1456.62" y="923.58" width="9.25" height="9.25"/>
<rect x="1443.88" y="927.58" width="9.25" height="9.25"/>
<rect x="1446.12" y="927.08" width="9.25" height="9.25"/>
<rect x="1447.62" y="925.58" width="9.25" height="9.25"/>
<rect x="1453.12" y="926.83" width="9.25" height="9.25"/>
<rect x="1444.88" y="926.08" width="9.25" height="9.25"/>
<rect x="1460.12" y="927.33" width="9.25" height="9.25"/>
<rect x="1461.88" y="927.83" width="9.25" height="9.25"/>
<rect x="1458.12" y="925.58" width="9.25" height="9.25"/>
</g>
<g stroke="#666666" stroke-width="4.75">
<circle cx="1555.75" cy="831.7" r="4.52"/>
<circle cx="1555.75" cy="895.2" r="4.52"/>
<circle cx="1552.5" cy="908.6" r="4.52"/>
<circle cx="1540.65" cy="912.3" r="4.52"/>
<circle cx="1570.65" cy="911.7" r="4.52"/>
<circle cx="1563.15" cy="912.95" r="4.52"/>
<circle cx="1547.75" cy="914.2" r="4.52"/>
</g>
<g stroke="#666666" stroke-width="4.75" fill="#666666">
<circle cx="1540.75" cy="921.7" r="4.52"/>
<circle cx="1550.25" cy="921.2" r="4.52"/>
<circle cx="1561.25" cy="921.7" r="4.52"/>
<circle cx="1570.75" cy="922.2" r="4.52"/>
<circle cx="1540.75" cy="930.2" r="4.52"/>
<circle cx="1550.25" cy="930.7" r="4.52"/>
<circle cx="1561.25" cy="930.2" r="4.52"/>
<circle cx="1570.75" cy="928.7" r="4.52"/>
<circle cx="1555.75" cy="926.2" r="4.52"/>
<circle cx="1545.5" cy="921.45" r="4.52"/>
<circle cx="1540.75" cy="925.95" r="4.52"/>
<circle cx="1555.75" cy="921.45" r="4.52"/>
<circle cx="1550.25" cy="925.95" r="4.52"/>
<circle cx="1553" cy="923.7" r="4.52"/>
<circle cx="1566" cy="921.95" r="4.52"/>
<circle cx="1561.25" cy="925.95" r="4.52"/>
<circle cx="1566" cy="925.2" r="4.52"/>
<circle cx="1558.5" cy="923.95" r="4.52"/>
<circle cx="1566" cy="926.2" r="4.52"/>
<circle cx="1570.75" cy="925.45" r="4.52"/>
<circle cx="1545.5" cy="930.45" r="4.52"/>
<circle cx="1555.75" cy="930.45" r="4.52"/>
<circle cx="1553" cy="928.45" r="4.52"/>
<circle cx="1566" cy="929.45" r="4.52"/>
<circle cx="1558.5" cy="928.2" r="4.52"/>
</g>
<g stroke="#FF0066" stroke-width="4.65" fill="#FF0066">
<rect x="1608.28" y="865.53" width="9.25" height="9.25"/>
<rect x="1612.28" y="870.08" width="9.25" height="9.25"/>
<rect x="1608.28" y="874.58" width="9.25" height="9.25"/>
<rect x="1612.28" y="879.08" width="9.25" height="9.25"/>
<rect x="1608.28" y="883.58" width="9.25" height="9.25"/>
<rect x="1612.28" y="888.08" width="9.25" height="9.25"/>
<rect x="1608.28" y="892.08" width="9.25" height="9.25"/>
<rect x="1608.28" y="894.48" width="9.25" height="9.25"/>
<rect x="1616.38" y="912.08" width="9.25" height="9.25"/>
<rect x="1620.97" y="915.18" width="9.25" height="9.25"/>
<rect x="1595.38" y="915.83" width="9.25" height="9.25"/>
<rect x="1602.38" y="916.58" width="9.25" height="9.25"/>
<rect x="1610.38" y="916.58" width="9.25" height="9.25"/>
<rect x="1595.12" y="926.48" width="9.25" height="9.25"/>
<rect x="1603.38" y="924.58" width="9.25" height="9.25"/>
<rect x="1610.38" y="923.58" width="9.25" height="9.25"/>
<rect x="1617.38" y="924.58" width="9.25" height="9.25"/>
<rect x="1625.38" y="925.08" width="9.25" height="9.25"/>
<rect x="1622.38" y="920.58" width="9.25" height="9.25"/>
<rect x="1614.38" y="927.58" width="9.25" height="9.25"/>
<rect x="1610.28" y="867.81" width="9.25" height="9.25"/>
<rect x="1608.28" y="870.06" width="9.25" height="9.25"/>
<rect x="1610.28" y="872.33" width="9.25" height="9.25"/>
<rect x="1612.28" y="874.58" width="9.25" height="9.25"/>
<rect x="1610.28" y="876.83" width="9.25" height="9.25"/>
<rect x="1608.28" y="879.08" width="9.25" height="9.25"/>
<rect x="1610.28" y="881.33" width="9.25" height="9.25"/>
<rect x="1612.28" y="883.58" width="9.25" height="9.25"/>
<rect x="1610.28" y="885.83" width="9.25" height="9.25"/>
<rect x="1608.28" y="887.83" width="9.25" height="9.25"/>
<rect x="1608.28" y="889.03" width="9.25" height="9.25"/>
<rect x="1610.28" y="890.08" width="9.25" height="9.25"/>
<rect x="1610.28" y="891.28" width="9.25" height="9.25"/>
<rect x="1618.67" y="913.62" width="9.25" height="9.25"/>
<rect x="1613.38" y="914.33" width="9.25" height="9.25"/>
<rect x="1619.38" y="916.33" width="9.25" height="9.25"/>
<rect x="1615.67" y="915.88" width="9.25" height="9.25"/>
<rect x="1619.17" y="919.88" width="9.25" height="9.25"/>
<rect x="1623.17" y="920.12" width="9.25" height="9.25"/>
<rect x="1621.67" y="917.88" width="9.25" height="9.25"/>
<rect x="1598.88" y="916.2" width="9.25" height="9.25"/>
<rect x="1595.26" y="921.16" width="9.25" height="9.25"/>
<rect x="1599.38" y="920.2" width="9.25" height="9.25"/>
<rect x="1606.38" y="916.58" width="9.25" height="9.25"/>
<rect x="1598.76" y="921.53" width="9.25" height="9.25"/>
<rect x="1602.88" y="920.58" width="9.25" height="9.25"/>
<rect x="1606.38" y="920.08" width="9.25" height="9.25"/>
<rect x="1606.88" y="920.58" width="9.25" height="9.25"/>
<rect x="1610.38" y="920.08" width="9.25" height="9.25"/>
<rect x="1613.88" y="920.58" width="9.25" height="9.25"/>
<rect x="1612.38" y="922.08" width="9.25" height="9.25"/>
<rect x="1599.26" y="925.53" width="9.25" height="9.25"/>
<rect x="1606.88" y="924.08" width="9.25" height="9.25"/>
<rect x="1608.88" y="926.08" width="9.25" height="9.25"/>
<rect x="1613.88" y="924.08" width="9.25" height="9.25"/>
<rect x="1616.38" y="922.08" width="9.25" height="9.25"/>
<rect x="1612.38" y="925.58" width="9.25" height="9.25"/>
<rect x="1621.38" y="924.83" width="9.25" height="9.25"/>
<rect x="1619.88" y="922.58" width="9.25" height="9.25"/>
<rect x="1619.88" y="926.33" width="9.25" height="9.25"/>
<rect x="1618.38" y="924.08" width="9.25" height="9.25"/>
</g>
<g stroke="#666666" stroke-width="4.75">
<circle cx="1713.75" cy="854.2" r="4.52"/>
<circle cx="1713.75" cy="896.7" r="4.52"/>
</g>
<g stroke="#666666" stroke-width="4.75" fill="#666666">
<circle cx="1720" cy="908.6" r="4.52"/>
<circle cx="1706.85" cy="913.6" r="4.52"/>
<circle cx="1724.35" cy="918.6" r="4.52"/>
<circle cx="1698.15" cy="920.45" r="4.52"/>
<circle cx="1713.75" cy="918.2" r="4.52"/>
<circle cx="1705.75" cy="922.2" r="4.52"/>
<circle cx="1718.75" cy="923.2" r="4.52"/>
<circle cx="1698.75" cy="929.2" r="4.52"/>
<circle cx="1705.75" cy="930.2" r="4.52"/>
<circle cx="1713.75" cy="929.2" r="4.52"/>
<circle cx="1721.75" cy="930.2" r="4.52"/>
<circle cx="1728.75" cy="928.2" r="4.52"/>
<circle cx="1731.75" cy="931.2" r="4.52"/>
<circle cx="1695.75" cy="932.2" r="4.52"/>
<circle cx="1722.18" cy="913.6" r="4.52"/>
<circle cx="1716.87" cy="913.4" r="4.52"/>
<circle cx="1702.5" cy="917.03" r="4.52"/>
<circle cx="1710.3" cy="915.9" r="4.52"/>
<circle cx="1706.3" cy="917.9" r="4.52"/>
<circle cx="1719.05" cy="918.4" r="4.52"/>
<circle cx="1721.55" cy="920.9" r="4.52"/>
<circle cx="1723.05" cy="924.4" r="4.52"/>
<circle cx="1726.55" cy="923.4" r="4.52"/>
<circle cx="1701.95" cy="921.32" r="4.52"/>
<circle cx="1698.45" cy="924.82" r="4.52"/>
<circle cx="1701.95" cy="925.32" r="4.52"/>
<circle cx="1696.95" cy="926.32" r="4.52"/>
<circle cx="1709.75" cy="920.2" r="4.52"/>
<circle cx="1716.25" cy="920.7" r="4.52"/>
<circle cx="1713.75" cy="923.7" r="4.52"/>
<circle cx="1702.25" cy="925.7" r="4.52"/>
<circle cx="1705.75" cy="926.2" r="4.52"/>
<circle cx="1709.75" cy="925.7" r="4.52"/>
<circle cx="1716.25" cy="926.2" r="4.52"/>
<circle cx="1720.25" cy="926.7" r="4.52"/>
<circle cx="1723.75" cy="925.7" r="4.52"/>
<circle cx="1702.25" cy="929.7" r="4.52"/>
<circle cx="1709.75" cy="929.7" r="4.52"/>
<circle cx="1700.75" cy="931.2" r="4.52"/>
<circle cx="1717.75" cy="929.7" r="4.52"/>
<circle cx="1725.25" cy="929.2" r="4.52"/>
<circle cx="1726.75" cy="930.7" r="4.52"/>
</g>
<g stroke="#FF0066" stroke-width="4.65">
<rect x="1768.38" y="833.68" width="9.25" height="9.25"/>
<rect x="1765.97" y="885.83" width="9.25" height="9.25"/>
</g>
<g stroke="#FF0066" stroke-width="4.65" fill="#FF0066">
<rect x="1766.08" y="857.53" width="9.25" height="9.25"/>
<rect x="1770.08" y="862.88" width="9.25" height="9.25"/>
<rect x="1761.62" y="894.58" width="9.25" height="9.25"/>
<rect x="1768.38" y="895.58" width="9.25" height="9.25"/>
<rect x="1757.28" y="902.08" width="9.25" height="9.25"/>
<rect x="1765.38" y="901.58" width="9.25" height="9.25"/>
<rect x="1765.97" y="909.58" width="9.25" height="9.25"/>
<rect x="1774.78" y="911.48" width="9.25" height="9.25"/>
<rect x="1752.88" y="917.08" width="9.25" height="9.25"/>
<rect x="1760.38" y="917.58" width="9.25" height="9.25"/>
<rect x="1752.88" y="926.48" width="9.25" height="9.25"/>
<rect x="1761.38" y="924.58" width="9.25" height="9.25"/>
<rect x="1768.38" y="924.58" width="9.25" height="9.25"/>
<rect x="1775.38" y="924.58" width="9.25" height="9.25"/>
<rect x="1782.88" y="924.58" width="9.25" height="9.25"/>
<rect x="1764.99" y="895.08" width="9.25" height="9.25"/>
<rect x="1759.44" y="898.33" width="9.25" height="9.25"/>
<rect x="1763.49" y="898.08" width="9.25" height="9.25"/>
<rect x="1766.88" y="898.58" width="9.25" height="9.25"/>
<rect x="1761.33" y="901.83" width="9.25" height="9.25"/>
<rect x="1761.62" y="905.83" width="9.25" height="9.25"/>
<rect x="1765.67" y="905.58" width="9.25" height="9.25"/>
<rect x="1770.38" y="910.53" width="9.25" height="9.25"/>
<rect x="1763.17" y="913.58" width="9.25" height="9.25"/>
<rect x="1756.62" y="917.33" width="9.25" height="9.25"/>
<rect x="1752.88" y="921.78" width="9.25" height="9.25"/>
<rect x="1757.12" y="920.83" width="9.25" height="9.25"/>
<rect x="1756.62" y="922.03" width="9.25" height="9.25"/>
<rect x="1760.88" y="921.08" width="9.25" height="9.25"/>
<rect x="1764.38" y="921.08" width="9.25" height="9.25"/>
<rect x="1757.12" y="925.53" width="9.25" height="9.25"/>
<rect x="1764.88" y="924.58" width="9.25" height="9.25"/>
<rect x="1771.88" y="924.58" width="9.25" height="9.25"/>
<rect x="1779.12" y="924.58" width="9.25" height="9.25"/>
</g>
</g>
<g stroke="#000" stroke-width="2.1" fill="none">
<path d="M1377.5 933.2H1418.5M1398 923.95V933.7M1387.5 923.95H1408.5M1387.5 933.7H1408.5"/>
<path d="M1436.75 931.1H1477.75M1457.25 925.45V933.7M1446.75 925.45H1467.75M1446.75 933.7H1467.75"/>
<path d="M1535.25 921.1H1576.25M1555.75 911.45V928.2M1545.25 911.45H1566.25M1545.25 928.2H1566.25"/>
<path d="M1594.5 921.1H1635.5M1615 899.6V927.3M1604.5 899.6H1625.5M1604.5 927.3H1625.5"/>
<path d="M1693.25 924.45H1734.25M1713.75 913.8V928.2M1703.25 913.8H1724.25M1703.25 928.2H1724.25"/>
<path d="M1752.5 921.3H1793.5M1773 899.6V927.95M1762.5 899.6H1783.5M1762.5 927.95H1783.5"/>
</g>
<g stroke="#000" stroke-width="2.4" fill="none">
<path d="M1358.75 614.45V936.45M1339.45 934.25H1816.25M1339.45 888.82H1358.75M1339.45 843.39H1358.75M1339.45 797.96H1358.75M1339.45 752.54H1358.75M1339.45 707.11H1358.75M1339.45 661.68H1358.75M1339.45 616.25H1358.75M1428 934.25V953.25M1586 934.25V953.25M1743.5 934.25V953.25"/>
</g>
<g font-size="19.3" text-anchor="end">
<text transform="translate(1335.75 941.95) scale(1 1.06)">0</text>
<text transform="translate(1335.75 896.52) scale(1 1.06)">250</text>
<text transform="translate(1335.75 851.09) scale(1 1.06)">500</text>
<text transform="translate(1335.75 805.66) scale(1 1.06)">750</text>
<text transform="translate(1335.75 760.24) scale(1 1.06)">1000</text>
<text transform="translate(1335.75 714.81) scale(1 1.06)">1250</text>
<text transform="translate(1335.75 669.38) scale(1 1.06)">1500</text>
<text transform="translate(1335.75 623.95) scale(1 1.06)">1750</text>
</g>
<g font-size="19.2" text-anchor="middle">
<text transform="translate(1428 975.15) scale(1 1.05)">D0</text>
<text transform="translate(1586 975.15) scale(1 1.05)">D7</text>
<text transform="translate(1743.5 975.15) scale(1 1.05)">D90+</text>
</g>
<text transform="translate(1584.9 557.8) scale(1 1.02)" font-size="22.3" text-anchor="middle" font-weight="bold" letter-spacing="1.15">Membrane</text>
<clipPath id="cp6"><rect x="164.5" y="1125.75" width="497.5" height="318.15"/></clipPath>
<g clip-path="url(#cp6)" fill="none">
<g stroke="#666666" stroke-width="4.75">
<circle cx="223.75" cy="1219.05" r="4.52"/>
<circle cx="223.75" cy="1279.05" r="4.52"/>
<circle cx="217.5" cy="1376.4" r="4.52"/>
<circle cx="229.35" cy="1377.4" r="4.52"/>
<circle cx="223.75" cy="1393.05" r="4.52"/>
<circle cx="220.65" cy="1413.7" r="4.52"/>
<circle cx="227.5" cy="1412.4" r="4.52"/>
</g>
<g stroke="#666666" stroke-width="4.75" fill="#666666">
<circle cx="208.75" cy="1432.4" r="4.52"/>
<circle cx="220.65" cy="1433.7" r="4.52"/>
<circle cx="239.35" cy="1430.55" r="4.52"/>
<circle cx="208.75" cy="1441.3" r="4.52"/>
<circle cx="218.75" cy="1442.3" r="4.52"/>
<circle cx="228.75" cy="1440.3" r="4.52"/>
<circle cx="239.35" cy="1441.3" r="4.52"/>
<circle cx="231.75" cy="1436.3" r="4.52"/>
<circle cx="214.75" cy="1437.3" r="4.52"/>
<circle cx="214.7" cy="1433.05" r="4.52"/>
<circle cx="208.75" cy="1436.85" r="4.52"/>
<circle cx="211.75" cy="1434.85" r="4.52"/>
<circle cx="219.7" cy="1438" r="4.52"/>
<circle cx="224.7" cy="1437" r="4.52"/>
<circle cx="226.2" cy="1435" r="4.52"/>
<circle cx="217.7" cy="1435.5" r="4.52"/>
<circle cx="239.35" cy="1435.92" r="4.52"/>
<circle cx="235.55" cy="1433.42" r="4.52"/>
<circle cx="213.75" cy="1441.8" r="4.52"/>
<circle cx="211.75" cy="1439.3" r="4.52"/>
<circle cx="223.75" cy="1441.3" r="4.52"/>
<circle cx="216.75" cy="1439.8" r="4.52"/>
<circle cx="234.05" cy="1440.8" r="4.52"/>
<circle cx="235.55" cy="1438.8" r="4.52"/>
</g>
<g stroke="#FF0066" stroke-width="4.65">
<rect x="278.62" y="1126.92" width="9.25" height="9.25"/>
<rect x="278.62" y="1143.17" width="9.25" height="9.25"/>
<rect x="278.62" y="1162.42" width="9.25" height="9.25"/>
<rect x="278.62" y="1314.08" width="9.25" height="9.25"/>
<rect x="278.62" y="1362.77" width="9.25" height="9.25"/>
<rect x="278.62" y="1402.17" width="9.25" height="9.25"/>
</g>
<g stroke="#FF0066" stroke-width="4.65" fill="#FF0066">
<rect x="279.73" y="1375.27" width="9.25" height="9.25"/>
<rect x="277.23" y="1379.67" width="9.25" height="9.25"/>
<rect x="275.38" y="1415.92" width="9.25" height="9.25"/>
<rect x="282.23" y="1417.17" width="9.25" height="9.25"/>
<rect x="278.62" y="1425.92" width="9.25" height="9.25"/>
<rect x="263.62" y="1435.67" width="9.25" height="9.25"/>
<rect x="270.62" y="1434.17" width="9.25" height="9.25"/>
<rect x="278.62" y="1434.67" width="9.25" height="9.25"/>
<rect x="286.62" y="1434.17" width="9.25" height="9.25"/>
<rect x="294.12" y="1436.17" width="9.25" height="9.25"/>
<rect x="274.62" y="1437.67" width="9.25" height="9.25"/>
<rect x="282.62" y="1437.67" width="9.25" height="9.25"/>
<rect x="278.81" y="1416.56" width="9.25" height="9.25"/>
<rect x="277" y="1420.92" width="9.25" height="9.25"/>
<rect x="280.43" y="1421.56" width="9.25" height="9.25"/>
<rect x="274.62" y="1430.06" width="9.25" height="9.25"/>
<rect x="278.62" y="1430.29" width="9.25" height="9.25"/>
<rect x="282.62" y="1430.06" width="9.25" height="9.25"/>
<rect x="276.62" y="1431.79" width="9.25" height="9.25"/>
<rect x="280.62" y="1431.79" width="9.25" height="9.25"/>
<rect x="267.12" y="1434.92" width="9.25" height="9.25"/>
<rect x="269.12" y="1436.67" width="9.25" height="9.25"/>
<rect x="274.62" y="1434.42" width="9.25" height="9.25"/>
<rect x="276.62" y="1435.92" width="9.25" height="9.25"/>
<rect x="282.62" y="1434.42" width="9.25" height="9.25"/>
<rect x="290.38" y="1435.17" width="9.25" height="9.25"/>
<rect x="280.62" y="1435.92" width="9.25" height="9.25"/>
<rect x="288.38" y="1436.92" width="9.25" height="9.25"/>
<rect x="278.62" y="1437.67" width="9.25" height="9.25"/>
</g>
<g stroke="#666666" stroke-width="4.75">
<circle cx="382.5" cy="1165.8" r="4.52"/>
<circle cx="382.5" cy="1208.3" r="4.52"/>
<circle cx="382.5" cy="1240.3" r="4.52"/>
<circle cx="382.5" cy="1330.55" r="4.52"/>
<circle cx="382.5" cy="1340.55" r="4.52"/>
<circle cx="367.5" cy="1354.3" r="4.52"/>
<circle cx="377.1" cy="1360.55" r="4.52"/>
<circle cx="387.5" cy="1360.55" r="4.52"/>
<circle cx="397.5" cy="1358.9" r="4.52"/>
<circle cx="382.5" cy="1376.2" r="4.52"/>
<circle cx="382.5" cy="1401.8" r="4.52"/>
<circle cx="367.5" cy="1417.8" r="4.52"/>
<circle cx="387.5" cy="1422.4" r="4.52"/>
<circle cx="377.1" cy="1427.4" r="4.52"/>
<circle cx="387.5" cy="1435.55" r="4.52"/>
<circle cx="377.1" cy="1439.9" r="4.52"/>
</g>
<g stroke="#FF0066" stroke-width="4.65">
<rect x="437.38" y="1164.92" width="9.25" height="9.25"/>
<rect x="437.38" y="1198.17" width="9.25" height="9.25"/>
<rect x="437.38" y="1271.58" width="9.25" height="9.25"/>
<rect x="437.38" y="1314.67" width="9.25" height="9.25"/>
<rect x="437.38" y="1347.42" width="9.25" height="9.25"/>
<rect x="442.27" y="1367.42" width="9.25" height="9.25"/>
<rect x="432.27" y="1370.67" width="9.25" height="9.25"/>
<rect x="437.38" y="1382.17" width="9.25" height="9.25"/>
<rect x="437.38" y="1394.67" width="9.25" height="9.25"/>
<rect x="437.38" y="1405.27" width="9.25" height="9.25"/>
<rect x="452.62" y="1418.42" width="9.25" height="9.25"/>
<rect x="442.27" y="1419.42" width="9.25" height="9.25"/>
<rect x="422.27" y="1424.67" width="9.25" height="9.25"/>
<rect x="432.27" y="1430.27" width="9.25" height="9.25"/>
<rect x="452.62" y="1432.17" width="9.25" height="9.25"/>
<rect x="442.27" y="1435.27" width="9.25" height="9.25"/>
<rect x="422.27" y="1436.17" width="9.25" height="9.25"/>
</g>
<g stroke="#666666" stroke-width="4.75">
<circle cx="541.25" cy="1309.9" r="4.52"/>
<circle cx="541.25" cy="1323.7" r="4.52"/>
<circle cx="541.25" cy="1338.3" r="4.52"/>
<circle cx="533.15" cy="1390.3" r="4.52"/>
<circle cx="541.25" cy="1391.3" r="4.52"/>
<circle cx="548.15" cy="1393.05" r="4.52"/>
<circle cx="541.25" cy="1401.2" r="4.52"/>
<circle cx="533.15" cy="1416.2" r="4.52"/>
<circle cx="548.15" cy="1417.4" r="4.52"/>
<circle cx="556.25" cy="1420.55" r="4.52"/>
<circle cx="525.65" cy="1425.3" r="4.52"/>
<circle cx="548.15" cy="1427.4" r="4.52"/>
<circle cx="541.25" cy="1430.55" r="4.52"/>
<circle cx="541.25" cy="1442.4" r="4.52"/>
</g>
<g stroke="#FF0066" stroke-width="4.65">
<rect x="596.12" y="1213.17" width="9.25" height="9.25"/>
<rect x="596.12" y="1309.42" width="9.25" height="9.25"/>
<rect x="601.02" y="1329.42" width="9.25" height="9.25"/>
<rect x="591.02" y="1334.67" width="9.25" height="9.25"/>
<rect x="596.12" y="1375.92" width="9.25" height="9.25"/>
<rect x="601.02" y="1387.77" width="9.25" height="9.25"/>
<rect x="611.02" y="1390.08" width="9.25" height="9.25"/>
<rect x="580.73" y="1392.42" width="9.25" height="9.25"/>
<rect x="591.02" y="1394.92" width="9.25" height="9.25"/>
<rect x="601.02" y="1400.67" width="9.25" height="9.25"/>
<rect x="591.02" y="1409.67" width="9.25" height="9.25"/>
<rect x="611.02" y="1409.67" width="9.25" height="9.25"/>
<rect x="580.73" y="1414.08" width="9.25" height="9.25"/>
<rect x="601.02" y="1417.77" width="9.25" height="9.25"/>
<rect x="580.73" y="1426.92" width="9.25" height="9.25"/>
<rect x="611.02" y="1426.58" width="9.25" height="9.25"/>
<rect x="601.02" y="1430.92" width="9.25" height="9.25"/>
<rect x="591.02" y="1434.67" width="9.25" height="9.25"/>
</g>
</g>
<g stroke="#000" stroke-width="2.1" fill="none">
<path d="M203.25 1431.2H244.25M223.75 1378.7V1440.3M213.25 1378.7H234.25M213.25 1440.3H234.25"/>
<path d="M262.75 1422.2H303.75M283.25 1380.55V1443.7M272.75 1380.55H293.75M272.75 1443.7H293.75"/>
<path d="M362 1360.2H403M382.5 1330.9V1423.05M372 1330.9H393M372 1423.05H393"/>
<path d="M421.5 1400.9H462.5M442 1352.05V1429.55M431.5 1352.05H452.5M431.5 1429.55H452.5"/>
<path d="M520.75 1416.8H561.75M541.25 1389.9V1424.9M530.75 1389.9H551.75M530.75 1424.9H551.75"/>
<path d="M580.25 1409.3H621.25M600.75 1380.8V1428.05M590.25 1380.8H611.25M590.25 1428.05H611.25"/>
</g>
<g stroke="#000" stroke-width="2.4" fill="none">
<path d="M184.5 1123.95V1446.1M165.2 1443.9H642M165.2 1380.27H184.5M165.2 1316.64H184.5M165.2 1253.01H184.5M165.2 1189.38H184.5M165.2 1125.75H184.5M253.75 1443.9V1462.9M412 1443.9V1462.9M570.5 1443.9V1462.9"/>
</g>
<g font-size="19.3" text-anchor="end">
<text transform="translate(161.5 1451.6) scale(1 1.06)">0</text>
<text transform="translate(161.5 1387.97) scale(1 1.06)">100</text>
<text transform="translate(161.5 1324.34) scale(1 1.06)">200</text>
<text transform="translate(161.5 1260.71) scale(1 1.06)">300</text>
<text transform="translate(161.5 1197.08) scale(1 1.06)">400</text>
<text transform="translate(161.5 1133.45) scale(1 1.06)">500</text>
</g>
<g font-size="19.2" text-anchor="middle">
<text transform="translate(253.75 1484.8) scale(1 1.05)">D0</text>
<text transform="translate(412 1484.8) scale(1 1.05)">D7</text>
<text transform="translate(570.5 1484.8) scale(1 1.05)">D90+</text>
</g>
<text transform="translate(411.8 1067) scale(1 1.02)" font-size="22.3" text-anchor="middle" font-weight="bold" letter-spacing="1.3">Spike</text>
<text transform="translate(108.2 1291.5) rotate(-90) scale(1 1.09)" font-size="22.6" text-anchor="middle" letter-spacing="0.85">Polyfunctional SFUs/10<tspan dy="-9" font-size="15.5">6</tspan><tspan dy="9"> PBMCs</tspan></text>
<clipPath id="cp7"><rect x="753.25" y="1125.2" width="497.5" height="317.6"/></clipPath>
<g clip-path="url(#cp7)" fill="none">
<g stroke="#666666" stroke-width="4.75">
<circle cx="812.5" cy="1210.4" r="4.52"/>
<circle cx="812.5" cy="1343.8" r="4.52"/>
<circle cx="812.5" cy="1363.5" r="4.52"/>
<circle cx="812.5" cy="1397.3" r="4.52"/>
</g>
<g stroke="#666666" stroke-width="4.75" fill="#666666">
<circle cx="809.9" cy="1418" r="4.52"/>
<circle cx="815.1" cy="1418.6" r="4.52"/>
<circle cx="812.5" cy="1420.9" r="4.52"/>
<circle cx="812.5" cy="1428.4" r="4.52"/>
<circle cx="800" cy="1438.15" r="4.52"/>
<circle cx="807.5" cy="1436.4" r="4.52"/>
<circle cx="816.5" cy="1437.4" r="4.52"/>
<circle cx="797.5" cy="1442.4" r="4.52"/>
<circle cx="804.5" cy="1441.4" r="4.52"/>
<circle cx="812.5" cy="1441.4" r="4.52"/>
<circle cx="820.5" cy="1441.4" r="4.52"/>
<circle cx="826.5" cy="1441.9" r="4.52"/>
<circle cx="823.5" cy="1439.9" r="4.52"/>
<circle cx="828" cy="1443.4" r="4.52"/>
<circle cx="811.2" cy="1423.2" r="4.52"/>
<circle cx="813.8" cy="1423.5" r="4.52"/>
<circle cx="812.5" cy="1424.65" r="4.52"/>
<circle cx="810" cy="1432.4" r="4.52"/>
<circle cx="814.5" cy="1432.9" r="4.52"/>
<circle cx="803.75" cy="1437.28" r="4.52"/>
<circle cx="802.25" cy="1439.78" r="4.52"/>
<circle cx="812" cy="1436.9" r="4.52"/>
<circle cx="802.5" cy="1439.4" r="4.52"/>
<circle cx="806" cy="1438.9" r="4.52"/>
<circle cx="810" cy="1438.9" r="4.52"/>
<circle cx="814.5" cy="1439.4" r="4.52"/>
<circle cx="818.5" cy="1439.4" r="4.52"/>
<circle cx="821.5" cy="1439.65" r="4.52"/>
<circle cx="820" cy="1438.65" r="4.52"/>
<circle cx="801" cy="1441.9" r="4.52"/>
<circle cx="808.5" cy="1441.4" r="4.52"/>
<circle cx="816.5" cy="1441.4" r="4.52"/>
<circle cx="818" cy="1440.65" r="4.52"/>
<circle cx="823.5" cy="1441.65" r="4.52"/>
<circle cx="824.25" cy="1442.4" r="4.52"/>
<circle cx="825.75" cy="1441.65" r="4.52"/>
</g>
<g stroke="#FF0066" stroke-width="4.65">
<rect x="867.12" y="1334.78" width="9.25" height="9.25"/>
<rect x="868.02" y="1366.73" width="9.25" height="9.25"/>
<rect x="866.08" y="1373.83" width="9.25" height="9.25"/>
</g>
<g stroke="#FF0066" stroke-width="4.65" fill="#FF0066">
<rect x="865.62" y="1420.78" width="9.25" height="9.25"/>
<rect x="869.12" y="1420.28" width="9.25" height="9.25"/>
<rect x="854.12" y="1431.03" width="9.25" height="9.25"/>
<rect x="862.12" y="1428.78" width="9.25" height="9.25"/>
<rect x="870.12" y="1429.78" width="9.25" height="9.25"/>
<rect x="852.12" y="1435.78" width="9.25" height="9.25"/>
<rect x="859.12" y="1434.78" width="9.25" height="9.25"/>
<rect x="867.12" y="1435.78" width="9.25" height="9.25"/>
<rect x="875.12" y="1435.28" width="9.25" height="9.25"/>
<rect x="882.12" y="1435.78" width="9.25" height="9.25"/>
<rect x="878.12" y="1433.78" width="9.25" height="9.25"/>
<rect x="864.12" y="1432.78" width="9.25" height="9.25"/>
<rect x="863.88" y="1424.78" width="9.25" height="9.25"/>
<rect x="867.88" y="1425.28" width="9.25" height="9.25"/>
<rect x="864.88" y="1426.78" width="9.25" height="9.25"/>
<rect x="865.62" y="1424.53" width="9.25" height="9.25"/>
<rect x="869.62" y="1425.03" width="9.25" height="9.25"/>
<rect x="858.12" y="1429.89" width="9.25" height="9.25"/>
<rect x="856.62" y="1432.89" width="9.25" height="9.25"/>
<rect x="859.12" y="1431.89" width="9.25" height="9.25"/>
<rect x="866.12" y="1429.28" width="9.25" height="9.25"/>
<rect x="857.12" y="1432.28" width="9.25" height="9.25"/>
<rect x="860.62" y="1431.78" width="9.25" height="9.25"/>
<rect x="864.62" y="1432.28" width="9.25" height="9.25"/>
<rect x="864.62" y="1432.28" width="9.25" height="9.25"/>
<rect x="868.62" y="1432.78" width="9.25" height="9.25"/>
<rect x="872.62" y="1432.53" width="9.25" height="9.25"/>
<rect x="874.12" y="1431.78" width="9.25" height="9.25"/>
<rect x="867.12" y="1431.28" width="9.25" height="9.25"/>
<rect x="855.62" y="1435.28" width="9.25" height="9.25"/>
<rect x="858.12" y="1434.28" width="9.25" height="9.25"/>
<rect x="863.12" y="1435.28" width="9.25" height="9.25"/>
<rect x="871.12" y="1435.53" width="9.25" height="9.25"/>
<rect x="872.62" y="1434.78" width="9.25" height="9.25"/>
<rect x="878.62" y="1435.53" width="9.25" height="9.25"/>
<rect x="869.62" y="1434.03" width="9.25" height="9.25"/>
</g>
<g stroke="#666666" stroke-width="4.75">
<circle cx="970.5" cy="1332.9" r="4.52"/>
<circle cx="970.5" cy="1347.9" r="4.52"/>
<circle cx="975" cy="1373.15" r="4.52"/>
<circle cx="965" cy="1378.4" r="4.52"/>
<circle cx="985" cy="1381.9" r="4.52"/>
<circle cx="955" cy="1385.9" r="4.52"/>
<circle cx="955" cy="1405.9" r="4.52"/>
<circle cx="965" cy="1406.9" r="4.52"/>
<circle cx="975" cy="1412.5" r="4.52"/>
<circle cx="965" cy="1420.65" r="4.52"/>
<circle cx="975" cy="1423.15" r="4.52"/>
<circle cx="955" cy="1431.9" r="4.52"/>
<circle cx="965" cy="1433.15" r="4.52"/>
<circle cx="985" cy="1438.15" r="4.52"/>
<circle cx="975" cy="1439.4" r="4.52"/>
<circle cx="955" cy="1441.3" r="4.52"/>
</g>
<g stroke="#FF0066" stroke-width="4.65">
<rect x="1025.12" y="1346.38" width="9.25" height="9.25"/>
</g>
<g stroke="#FF0066" stroke-width="4.65" fill="#FF0066">
<rect x="1022.22" y="1379.78" width="9.25" height="9.25"/>
<rect x="1027.22" y="1379.18" width="9.25" height="9.25"/>
<rect x="1030.03" y="1397.88" width="9.25" height="9.25"/>
<rect x="1024.72" y="1402.28" width="9.25" height="9.25"/>
<rect x="1034.38" y="1408.53" width="9.25" height="9.25"/>
<rect x="1020.38" y="1409.78" width="9.25" height="9.25"/>
<rect x="1027.12" y="1415.78" width="9.25" height="9.25"/>
<rect x="1009.73" y="1423.53" width="9.25" height="9.25"/>
<rect x="1018.12" y="1421.78" width="9.25" height="9.25"/>
<rect x="1025.12" y="1423.78" width="9.25" height="9.25"/>
<rect x="1033.12" y="1422.78" width="9.25" height="9.25"/>
<rect x="1009.73" y="1432.78" width="9.25" height="9.25"/>
<rect x="1017.62" y="1431.78" width="9.25" height="9.25"/>
<rect x="1025.12" y="1432.78" width="9.25" height="9.25"/>
<rect x="1032.62" y="1431.78" width="9.25" height="9.25"/>
<rect x="1039.12" y="1433.78" width="9.25" height="9.25"/>
<rect x="1027.38" y="1400.08" width="9.25" height="9.25"/>
<rect x="1032.2" y="1403.2" width="9.25" height="9.25"/>
<rect x="1029.55" y="1405.39" width="9.25" height="9.25"/>
<rect x="1022.55" y="1406.03" width="9.25" height="9.25"/>
<rect x="1030.74" y="1412.16" width="9.25" height="9.25"/>
<rect x="1023.74" y="1412.78" width="9.25" height="9.25"/>
<rect x="1019.25" y="1415.78" width="9.25" height="9.25"/>
<rect x="1022.62" y="1418.78" width="9.25" height="9.25"/>
<rect x="1026.12" y="1419.78" width="9.25" height="9.25"/>
<rect x="1030.12" y="1419.28" width="9.25" height="9.25"/>
<rect x="1013.92" y="1422.66" width="9.25" height="9.25"/>
<rect x="1009.73" y="1428.16" width="9.25" height="9.25"/>
<rect x="1013.67" y="1427.66" width="9.25" height="9.25"/>
<rect x="1021.62" y="1422.78" width="9.25" height="9.25"/>
<rect x="1017.88" y="1426.78" width="9.25" height="9.25"/>
<rect x="1029.12" y="1423.28" width="9.25" height="9.25"/>
<rect x="1021.38" y="1427.78" width="9.25" height="9.25"/>
<rect x="1025.12" y="1428.28" width="9.25" height="9.25"/>
<rect x="1028.88" y="1427.78" width="9.25" height="9.25"/>
<rect x="1032.88" y="1427.28" width="9.25" height="9.25"/>
<rect x="1013.67" y="1432.28" width="9.25" height="9.25"/>
<rect x="1021.38" y="1432.28" width="9.25" height="9.25"/>
<rect x="1028.88" y="1432.28" width="9.25" height="9.25"/>
<rect x="1035.88" y="1432.78" width="9.25" height="9.25"/>
</g>
<g stroke="#666666" stroke-width="4.75">
<circle cx="1128.5" cy="1382.5" r="4.52"/>
<circle cx="1135" cy="1400" r="4.52"/>
</g>
<g stroke="#666666" stroke-width="4.75" fill="#666666">
<circle cx="1127.5" cy="1404.4" r="4.52"/>
<circle cx="1112.5" cy="1408.8" r="4.52"/>
<circle cx="1121.25" cy="1408.15" r="4.52"/>
<circle cx="1143.1" cy="1410" r="4.52"/>
<circle cx="1135" cy="1411.3" r="4.52"/>
<circle cx="1112.5" cy="1420.65" r="4.52"/>
<circle cx="1121.25" cy="1422.4" r="4.52"/>
<circle cx="1135" cy="1424.4" r="4.52"/>
<circle cx="1143.1" cy="1425" r="4.52"/>
<circle cx="1128.5" cy="1417.4" r="4.52"/>
<circle cx="1128.1" cy="1432.5" r="4.52"/>
<circle cx="1120.6" cy="1440" r="4.52"/>
<circle cx="1135" cy="1438.15" r="4.52"/>
<circle cx="1118.5" cy="1430.4" r="4.52"/>
<circle cx="1138.5" cy="1431.4" r="4.52"/>
<circle cx="1124.38" cy="1406.28" r="4.52"/>
<circle cx="1131.25" cy="1407.85" r="4.52"/>
<circle cx="1116.88" cy="1408.48" r="4.52"/>
<circle cx="1112.5" cy="1414.73" r="4.52"/>
<circle cx="1124.88" cy="1412.78" r="4.52"/>
<circle cx="1139.05" cy="1410.65" r="4.52"/>
<circle cx="1131.75" cy="1414.35" r="4.52"/>
<circle cx="1116.88" cy="1421.52" r="4.52"/>
<circle cx="1115.5" cy="1425.52" r="4.52"/>
<circle cx="1124.88" cy="1419.9" r="4.52"/>
<circle cx="1124.67" cy="1427.45" r="4.52"/>
<circle cx="1119.88" cy="1426.4" r="4.52"/>
<circle cx="1139.05" cy="1424.7" r="4.52"/>
<circle cx="1131.75" cy="1420.9" r="4.52"/>
<circle cx="1131.55" cy="1428.45" r="4.52"/>
<circle cx="1136.75" cy="1427.9" r="4.52"/>
<circle cx="1140.8" cy="1428.2" r="4.52"/>
<circle cx="1124.35" cy="1436.25" r="4.52"/>
<circle cx="1131.55" cy="1435.32" r="4.52"/>
<circle cx="1123.3" cy="1431.45" r="4.52"/>
<circle cx="1133.3" cy="1431.95" r="4.52"/>
<circle cx="1119.55" cy="1435.2" r="4.52"/>
<circle cx="1136.75" cy="1434.78" r="4.52"/>
</g>
<g stroke="#FF0066" stroke-width="4.65" fill="#FF0066">
<rect x="1179.78" y="1360.78" width="9.25" height="9.25"/>
<rect x="1185.38" y="1360.38" width="9.25" height="9.25"/>
<rect x="1182.28" y="1395.38" width="9.25" height="9.25"/>
<rect x="1187.88" y="1402.28" width="9.25" height="9.25"/>
<rect x="1176.62" y="1407.28" width="9.25" height="9.25"/>
<rect x="1185.88" y="1411.78" width="9.25" height="9.25"/>
<rect x="1177.88" y="1416.78" width="9.25" height="9.25"/>
<rect x="1186.88" y="1418.78" width="9.25" height="9.25"/>
<rect x="1167.88" y="1423.78" width="9.25" height="9.25"/>
<rect x="1175.38" y="1424.78" width="9.25" height="9.25"/>
<rect x="1182.88" y="1423.78" width="9.25" height="9.25"/>
<rect x="1190.38" y="1424.78" width="9.25" height="9.25"/>
<rect x="1197.88" y="1423.78" width="9.25" height="9.25"/>
<rect x="1170.88" y="1431.78" width="9.25" height="9.25"/>
<rect x="1178.88" y="1432.78" width="9.25" height="9.25"/>
<rect x="1186.88" y="1431.78" width="9.25" height="9.25"/>
<rect x="1194.88" y="1432.78" width="9.25" height="9.25"/>
<rect x="1185.08" y="1398.83" width="9.25" height="9.25"/>
<rect x="1182.26" y="1404.78" width="9.25" height="9.25"/>
<rect x="1186.88" y="1407.03" width="9.25" height="9.25"/>
<rect x="1181.26" y="1409.53" width="9.25" height="9.25"/>
<rect x="1177.26" y="1412.03" width="9.25" height="9.25"/>
<rect x="1181.88" y="1414.28" width="9.25" height="9.25"/>
<rect x="1186.38" y="1415.28" width="9.25" height="9.25"/>
<rect x="1184.38" y="1417.78" width="9.25" height="9.25"/>
<rect x="1182.38" y="1417.78" width="9.25" height="9.25"/>
<rect x="1172.88" y="1420.28" width="9.25" height="9.25"/>
<rect x="1176.62" y="1420.78" width="9.25" height="9.25"/>
<rect x="1180.38" y="1420.28" width="9.25" height="9.25"/>
<rect x="1184.88" y="1421.28" width="9.25" height="9.25"/>
<rect x="1188.62" y="1421.78" width="9.25" height="9.25"/>
<rect x="1192.38" y="1421.28" width="9.25" height="9.25"/>
<rect x="1171.62" y="1424.28" width="9.25" height="9.25"/>
<rect x="1169.38" y="1427.78" width="9.25" height="9.25"/>
<rect x="1179.12" y="1424.28" width="9.25" height="9.25"/>
<rect x="1173.12" y="1428.28" width="9.25" height="9.25"/>
<rect x="1177.12" y="1428.78" width="9.25" height="9.25"/>
<rect x="1186.62" y="1424.28" width="9.25" height="9.25"/>
<rect x="1180.88" y="1428.28" width="9.25" height="9.25"/>
<rect x="1184.88" y="1427.78" width="9.25" height="9.25"/>
<rect x="1194.12" y="1424.28" width="9.25" height="9.25"/>
<rect x="1188.62" y="1428.28" width="9.25" height="9.25"/>
<rect x="1192.62" y="1428.78" width="9.25" height="9.25"/>
<rect x="1196.38" y="1428.28" width="9.25" height="9.25"/>
<rect x="1174.88" y="1432.28" width="9.25" height="9.25"/>
<rect x="1182.88" y="1432.28" width="9.25" height="9.25"/>
<rect x="1190.88" y="1432.28" width="9.25" height="9.25"/>
</g>
</g>
<g stroke="#000" stroke-width="2.1" fill="none">
<path d="M792 1438.4H833M812.5 1418.4V1441.9M802 1418.4H823M802 1441.9H823"/>
<path d="M851.25 1439.4H892.25M871.75 1427.9V1441.9M861.25 1427.9H882.25M861.25 1441.9H882.25"/>
<path d="M950 1409.65H991M970.5 1378.4V1432.3M960 1378.4H981M960 1432.3H981"/>
<path d="M1009.25 1427.9H1050.25M1029.75 1408.15V1435.3M1019.25 1408.15H1040.25M1019.25 1435.3H1040.25"/>
<path d="M1108 1418.4H1149M1128.5 1409.15V1429.4M1118 1409.15H1139M1118 1429.4H1139"/>
<path d="M1167 1429.4H1208M1187.5 1412.3V1433.8M1177 1412.3H1198M1177 1433.8H1198"/>
</g>
<g stroke="#000" stroke-width="2.4" fill="none">
<path d="M773.25 1123.4V1445M753.95 1442.8H1230.75M753.95 1379.28H773.25M753.95 1315.76H773.25M753.95 1252.24H773.25M753.95 1188.72H773.25M753.95 1125.2H773.25M842 1442.8V1461.8M1000 1442.8V1461.8M1157.75 1442.8V1461.8"/>
</g>
<g font-size="19.3" text-anchor="end">
<text transform="translate(750.25 1450.5) scale(1 1.06)">0</text>
<text transform="translate(750.25 1386.98) scale(1 1.06)">100</text>
<text transform="translate(750.25 1323.46) scale(1 1.06)">200</text>
<text transform="translate(750.25 1259.94) scale(1 1.06)">300</text>
<text transform="translate(750.25 1196.42) scale(1 1.06)">400</text>
<text transform="translate(750.25 1132.9) scale(1 1.06)">500</text>
</g>
<g font-size="19.2" text-anchor="middle">
<text transform="translate(842 1483.7) scale(1 1.05)">D0</text>
<text transform="translate(1000 1483.7) scale(1 1.05)">D7</text>
<text transform="translate(1157.75 1483.7) scale(1 1.05)">D90+</text>
</g>
<text transform="translate(1000.6 1067) scale(1 1.02)" font-size="22.3" text-anchor="middle" font-weight="bold" letter-spacing="0.98">Nucleocapsid</text>
<clipPath id="cp8"><rect x="1339.5" y="1125.2" width="497.5" height="317.6"/></clipPath>
<g clip-path="url(#cp8)" fill="none">
<g stroke="#666666" stroke-width="4.75">
<circle cx="1398.75" cy="1401.5" r="4.52"/>
</g>
<g stroke="#666666" stroke-width="4.75" fill="#666666">
<circle cx="1398.75" cy="1419.8" r="4.52"/>
<circle cx="1403.5" cy="1426.3" r="4.52"/>
<circle cx="1400.75" cy="1428.9" r="4.52"/>
<circle cx="1395.75" cy="1430.4" r="4.52"/>
<circle cx="1386.25" cy="1436.3" r="4.52"/>
<circle cx="1393.75" cy="1435.4" r="4.52"/>
<circle cx="1402.75" cy="1434.4" r="4.52"/>
<circle cx="1383.75" cy="1441.9" r="4.52"/>
<circle cx="1389.75" cy="1440.4" r="4.52"/>
<circle cx="1398.75" cy="1440.4" r="4.52"/>
<circle cx="1406.75" cy="1440.4" r="4.52"/>
<circle cx="1412.75" cy="1439.9" r="4.52"/>
<circle cx="1414.25" cy="1442.9" r="4.52"/>
<circle cx="1410.75" cy="1442.4" r="4.52"/>
<circle cx="1385.75" cy="1442.4" r="4.52"/>
<circle cx="1402.75" cy="1442.4" r="4.52"/>
<circle cx="1390.75" cy="1437.4" r="4.52"/>
<circle cx="1399.75" cy="1437.4" r="4.52"/>
<circle cx="1407.75" cy="1437.4" r="4.52"/>
<circle cx="1401.13" cy="1423.05" r="4.52"/>
<circle cx="1399.75" cy="1424.35" r="4.52"/>
<circle cx="1397.25" cy="1425.1" r="4.52"/>
<circle cx="1399.63" cy="1428.35" r="4.52"/>
<circle cx="1403.13" cy="1430.35" r="4.52"/>
<circle cx="1401.63" cy="1431.85" r="4.52"/>
<circle cx="1405.63" cy="1431.85" r="4.52"/>
<circle cx="1397.25" cy="1432.15" r="4.52"/>
<circle cx="1401.75" cy="1431.65" r="4.52"/>
<circle cx="1399.75" cy="1434.65" r="4.52"/>
<circle cx="1400.25" cy="1433.15" r="4.52"/>
<circle cx="1404.25" cy="1433.15" r="4.52"/>
<circle cx="1391" cy="1433.35" r="4.52"/>
<circle cx="1399.25" cy="1432.4" r="4.52"/>
<circle cx="1392.75" cy="1435.4" r="4.52"/>
<circle cx="1397.25" cy="1435.4" r="4.52"/>
<circle cx="1393.25" cy="1433.9" r="4.52"/>
<circle cx="1397.75" cy="1433.9" r="4.52"/>
<circle cx="1390" cy="1435.85" r="4.52"/>
<circle cx="1385" cy="1439.1" r="4.52"/>
<circle cx="1386" cy="1439.35" r="4.52"/>
<circle cx="1398.25" cy="1434.9" r="4.52"/>
<circle cx="1388.75" cy="1438.65" r="4.52"/>
<circle cx="1391.75" cy="1437.9" r="4.52"/>
<circle cx="1396.25" cy="1437.9" r="4.52"/>
<circle cx="1389.75" cy="1438.9" r="4.52"/>
<circle cx="1398.25" cy="1438.9" r="4.52"/>
<circle cx="1396.75" cy="1436.4" r="4.52"/>
<circle cx="1400.75" cy="1437.4" r="4.52"/>
<circle cx="1404.75" cy="1437.4" r="4.52"/>
<circle cx="1407.75" cy="1437.15" r="4.52"/>
<circle cx="1406.75" cy="1438.4" r="4.52"/>
<circle cx="1402.75" cy="1438.4" r="4.52"/>
<circle cx="1396.75" cy="1435.9" r="4.52"/>
<circle cx="1405.25" cy="1435.9" r="4.52"/>
<circle cx="1386.75" cy="1441.15" r="4.52"/>
<circle cx="1387.25" cy="1439.65" r="4.52"/>
<circle cx="1394.25" cy="1440.4" r="4.52"/>
<circle cx="1394.75" cy="1438.9" r="4.52"/>
<circle cx="1402.75" cy="1440.4" r="4.52"/>
<circle cx="1404.75" cy="1441.4" r="4.52"/>
<circle cx="1394.75" cy="1438.9" r="4.52"/>
<circle cx="1403.25" cy="1438.9" r="4.52"/>
<circle cx="1409.75" cy="1440.15" r="4.52"/>
<circle cx="1410.5" cy="1441.65" r="4.52"/>
<circle cx="1403.25" cy="1438.9" r="4.52"/>
<circle cx="1407.75" cy="1441.15" r="4.52"/>
<circle cx="1410.25" cy="1438.65" r="4.52"/>
<circle cx="1408.5" cy="1442.65" r="4.52"/>
<circle cx="1411" cy="1440.15" r="4.52"/>
<circle cx="1406.75" cy="1442.4" r="4.52"/>
<circle cx="1405.25" cy="1439.9" r="4.52"/>
<circle cx="1409.25" cy="1439.9" r="4.52"/>
<circle cx="1388.25" cy="1439.9" r="4.52"/>
<circle cx="1401.25" cy="1439.9" r="4.52"/>
<circle cx="1405.25" cy="1439.9" r="4.52"/>
<circle cx="1395.25" cy="1437.4" r="4.52"/>
<circle cx="1403.75" cy="1437.4" r="4.52"/>
</g>
<g stroke="#FF0066" stroke-width="4.65">
<rect x="1453.12" y="1391.03" width="9.25" height="9.25"/>
</g>
<g stroke="#FF0066" stroke-width="4.65" fill="#FF0066">
<rect x="1453.12" y="1410.08" width="9.25" height="9.25"/>
<rect x="1453.12" y="1414.78" width="9.25" height="9.25"/>
<rect x="1453.53" y="1420.48" width="9.25" height="9.25"/>
<rect x="1453.53" y="1424.78" width="9.25" height="9.25"/>
<rect x="1440.38" y="1431.03" width="9.25" height="9.25"/>
<rect x="1448.12" y="1429.78" width="9.25" height="9.25"/>
<rect x="1457.12" y="1430.78" width="9.25" height="9.25"/>
<rect x="1467.88" y="1431.68" width="9.25" height="9.25"/>
<rect x="1438.12" y="1435.78" width="9.25" height="9.25"/>
<rect x="1445.12" y="1434.78" width="9.25" height="9.25"/>
<rect x="1453.12" y="1435.78" width="9.25" height="9.25"/>
<rect x="1461.12" y="1434.78" width="9.25" height="9.25"/>
<rect x="1468.12" y="1435.78" width="9.25" height="9.25"/>
<rect x="1442.12" y="1436.78" width="9.25" height="9.25"/>
<rect x="1464.12" y="1436.78" width="9.25" height="9.25"/>
<rect x="1453.33" y="1415.28" width="9.25" height="9.25"/>
<rect x="1453.33" y="1417.62" width="9.25" height="9.25"/>
<rect x="1453.33" y="1419.78" width="9.25" height="9.25"/>
<rect x="1450.83" y="1425.12" width="9.25" height="9.25"/>
<rect x="1455.33" y="1425.62" width="9.25" height="9.25"/>
<rect x="1450.83" y="1427.28" width="9.25" height="9.25"/>
<rect x="1455.33" y="1427.78" width="9.25" height="9.25"/>
<rect x="1453.33" y="1430.28" width="9.25" height="9.25"/>
<rect x="1444.24" y="1430.39" width="9.25" height="9.25"/>
<rect x="1442.74" y="1432.89" width="9.25" height="9.25"/>
<rect x="1441.24" y="1433.89" width="9.25" height="9.25"/>
<rect x="1452.62" y="1430.28" width="9.25" height="9.25"/>
<rect x="1443.12" y="1432.78" width="9.25" height="9.25"/>
<rect x="1446.62" y="1432.28" width="9.25" height="9.25"/>
<rect x="1450.62" y="1432.78" width="9.25" height="9.25"/>
<rect x="1445.12" y="1433.28" width="9.25" height="9.25"/>
<rect x="1462.51" y="1431.23" width="9.25" height="9.25"/>
<rect x="1455.12" y="1433.28" width="9.25" height="9.25"/>
<rect x="1459.12" y="1432.78" width="9.25" height="9.25"/>
<rect x="1462.62" y="1433.28" width="9.25" height="9.25"/>
<rect x="1460.62" y="1433.78" width="9.25" height="9.25"/>
<rect x="1464.51" y="1433.23" width="9.25" height="9.25"/>
<rect x="1466.01" y="1434.23" width="9.25" height="9.25"/>
<rect x="1441.62" y="1435.28" width="9.25" height="9.25"/>
<rect x="1449.12" y="1435.28" width="9.25" height="9.25"/>
<rect x="1457.12" y="1435.28" width="9.25" height="9.25"/>
<rect x="1447.62" y="1436.28" width="9.25" height="9.25"/>
<rect x="1458.62" y="1436.28" width="9.25" height="9.25"/>
<rect x="1464.62" y="1435.28" width="9.25" height="9.25"/>
</g>
<g stroke="#666666" stroke-width="4.75">
<circle cx="1556.5" cy="1355.3" r="4.52"/>
</g>
<g stroke="#666666" stroke-width="4.75" fill="#666666">
<circle cx="1553.1" cy="1400.65" r="4.52"/>
<circle cx="1559" cy="1402.8" r="4.52"/>
<circle cx="1571.25" cy="1415.4" r="4.52"/>
<circle cx="1541.25" cy="1422.5" r="4.52"/>
<circle cx="1563.5" cy="1421.4" r="4.52"/>
<circle cx="1551.5" cy="1424.4" r="4.52"/>
<circle cx="1571.5" cy="1425.4" r="4.52"/>
<circle cx="1541.5" cy="1431.9" r="4.52"/>
<circle cx="1550.5" cy="1431.4" r="4.52"/>
<circle cx="1559.5" cy="1432.4" r="4.52"/>
<circle cx="1567.5" cy="1431.4" r="4.52"/>
<circle cx="1571.25" cy="1436.9" r="4.52"/>
<circle cx="1541.5" cy="1440.9" r="4.52"/>
<circle cx="1550.5" cy="1440.4" r="4.52"/>
<circle cx="1559.5" cy="1440.9" r="4.52"/>
<circle cx="1567.5" cy="1441.4" r="4.52"/>
<circle cx="1556.05" cy="1401.73" r="4.52"/>
<circle cx="1567.38" cy="1418.4" r="4.52"/>
<circle cx="1571.38" cy="1420.4" r="4.52"/>
<circle cx="1546.38" cy="1423.45" r="4.52"/>
<circle cx="1541.38" cy="1427.2" r="4.52"/>
<circle cx="1557.5" cy="1422.9" r="4.52"/>
<circle cx="1567.5" cy="1423.4" r="4.52"/>
<circle cx="1561.5" cy="1426.9" r="4.52"/>
<circle cx="1565.5" cy="1426.4" r="4.52"/>
<circle cx="1546.5" cy="1428.15" r="4.52"/>
<circle cx="1551" cy="1427.9" r="4.52"/>
<circle cx="1555.5" cy="1428.4" r="4.52"/>
<circle cx="1569.5" cy="1428.4" r="4.52"/>
<circle cx="1571.38" cy="1431.15" r="4.52"/>
<circle cx="1546" cy="1431.65" r="4.52"/>
<circle cx="1541.5" cy="1436.4" r="4.52"/>
<circle cx="1546" cy="1436.15" r="4.52"/>
<circle cx="1555" cy="1431.9" r="4.52"/>
<circle cx="1550.5" cy="1435.9" r="4.52"/>
<circle cx="1563.5" cy="1431.9" r="4.52"/>
<circle cx="1555" cy="1436.4" r="4.52"/>
<circle cx="1559.5" cy="1436.65" r="4.52"/>
<circle cx="1563.5" cy="1436.9" r="4.52"/>
<circle cx="1569.38" cy="1434.15" r="4.52"/>
<circle cx="1563.5" cy="1436.15" r="4.52"/>
<circle cx="1567.5" cy="1436.4" r="4.52"/>
<circle cx="1565.38" cy="1438.9" r="4.52"/>
<circle cx="1569.38" cy="1439.15" r="4.52"/>
<circle cx="1546" cy="1440.65" r="4.52"/>
<circle cx="1555" cy="1440.65" r="4.52"/>
<circle cx="1563.5" cy="1441.15" r="4.52"/>
</g>
<g stroke="#FF0066" stroke-width="4.65">
<rect x="1611.38" y="1313.78" width="9.25" height="9.25"/>
<rect x="1611.38" y="1346.38" width="9.25" height="9.25"/>
<rect x="1611.38" y="1361.38" width="9.25" height="9.25"/>
<rect x="1611.38" y="1384.38" width="9.25" height="9.25"/>
<rect x="1611.38" y="1394.18" width="9.25" height="9.25"/>
</g>
<g stroke="#FF0066" stroke-width="4.65" fill="#FF0066">
<rect x="1596.38" y="1422.78" width="9.25" height="9.25"/>
<rect x="1603.88" y="1421.78" width="9.25" height="9.25"/>
<rect x="1611.38" y="1422.78" width="9.25" height="9.25"/>
<rect x="1617.38" y="1420.78" width="9.25" height="9.25"/>
<rect x="1626.38" y="1422.78" width="9.25" height="9.25"/>
<rect x="1596.38" y="1431.78" width="9.25" height="9.25"/>
<rect x="1603.88" y="1431.78" width="9.25" height="9.25"/>
<rect x="1611.38" y="1431.78" width="9.25" height="9.25"/>
<rect x="1618.88" y="1431.78" width="9.25" height="9.25"/>
<rect x="1626.38" y="1431.78" width="9.25" height="9.25"/>
<rect x="1621.38" y="1426.78" width="9.25" height="9.25"/>
<rect x="1601.38" y="1426.78" width="9.25" height="9.25"/>
<rect x="1600.12" y="1422.28" width="9.25" height="9.25"/>
<rect x="1596.38" y="1427.28" width="9.25" height="9.25"/>
<rect x="1600.12" y="1427.28" width="9.25" height="9.25"/>
<rect x="1598.88" y="1424.78" width="9.25" height="9.25"/>
<rect x="1607.62" y="1422.28" width="9.25" height="9.25"/>
<rect x="1600.12" y="1426.78" width="9.25" height="9.25"/>
<rect x="1603.88" y="1426.78" width="9.25" height="9.25"/>
<rect x="1607.62" y="1426.78" width="9.25" height="9.25"/>
<rect x="1602.62" y="1424.28" width="9.25" height="9.25"/>
<rect x="1614.38" y="1421.78" width="9.25" height="9.25"/>
<rect x="1607.62" y="1427.28" width="9.25" height="9.25"/>
<rect x="1611.38" y="1427.28" width="9.25" height="9.25"/>
<rect x="1615.12" y="1427.28" width="9.25" height="9.25"/>
<rect x="1616.38" y="1424.78" width="9.25" height="9.25"/>
<rect x="1606.38" y="1424.78" width="9.25" height="9.25"/>
<rect x="1621.88" y="1421.78" width="9.25" height="9.25"/>
<rect x="1618.12" y="1426.28" width="9.25" height="9.25"/>
<rect x="1619.38" y="1423.78" width="9.25" height="9.25"/>
<rect x="1622.62" y="1427.28" width="9.25" height="9.25"/>
<rect x="1626.38" y="1427.28" width="9.25" height="9.25"/>
<rect x="1623.88" y="1424.78" width="9.25" height="9.25"/>
<rect x="1600.12" y="1431.78" width="9.25" height="9.25"/>
<rect x="1598.88" y="1429.28" width="9.25" height="9.25"/>
<rect x="1607.62" y="1431.78" width="9.25" height="9.25"/>
<rect x="1602.62" y="1429.28" width="9.25" height="9.25"/>
<rect x="1615.12" y="1431.78" width="9.25" height="9.25"/>
<rect x="1616.38" y="1429.28" width="9.25" height="9.25"/>
<rect x="1606.38" y="1429.28" width="9.25" height="9.25"/>
<rect x="1622.62" y="1431.78" width="9.25" height="9.25"/>
<rect x="1620.12" y="1429.28" width="9.25" height="9.25"/>
<rect x="1623.88" y="1429.28" width="9.25" height="9.25"/>
</g>
<g stroke="#666666" stroke-width="4.75">
<circle cx="1714.5" cy="1354.15" r="4.52"/>
<circle cx="1714.5" cy="1396" r="4.52"/>
<circle cx="1714.5" cy="1406" r="4.52"/>
</g>
<g stroke="#666666" stroke-width="4.75" fill="#666666">
<circle cx="1719.5" cy="1414.4" r="4.52"/>
<circle cx="1704.5" cy="1423.8" r="4.52"/>
<circle cx="1724.5" cy="1423.8" r="4.52"/>
<circle cx="1714.5" cy="1421.4" r="4.52"/>
<circle cx="1698.5" cy="1437.9" r="4.52"/>
<circle cx="1706.5" cy="1437.4" r="4.52"/>
<circle cx="1714.5" cy="1437.4" r="4.52"/>
<circle cx="1722.5" cy="1437.4" r="4.52"/>
<circle cx="1730.5" cy="1437.9" r="4.52"/>
<circle cx="1702.5" cy="1432.4" r="4.52"/>
<circle cx="1726.5" cy="1432.4" r="4.52"/>
<circle cx="1710.5" cy="1430.4" r="4.52"/>
<circle cx="1718.5" cy="1430.4" r="4.52"/>
<circle cx="1722" cy="1419.1" r="4.52"/>
<circle cx="1717" cy="1417.9" r="4.52"/>
<circle cx="1709.5" cy="1422.6" r="4.52"/>
<circle cx="1703.5" cy="1428.1" r="4.52"/>
<circle cx="1707.5" cy="1427.1" r="4.52"/>
<circle cx="1719.5" cy="1422.6" r="4.52"/>
<circle cx="1725.5" cy="1428.1" r="4.52"/>
<circle cx="1721.5" cy="1427.1" r="4.52"/>
<circle cx="1712.5" cy="1425.9" r="4.52"/>
<circle cx="1716.5" cy="1425.9" r="4.52"/>
<circle cx="1702.5" cy="1437.65" r="4.52"/>
<circle cx="1700.5" cy="1435.15" r="4.52"/>
<circle cx="1710.5" cy="1437.4" r="4.52"/>
<circle cx="1704.5" cy="1434.9" r="4.52"/>
<circle cx="1708.5" cy="1433.9" r="4.52"/>
<circle cx="1718.5" cy="1437.4" r="4.52"/>
<circle cx="1712.5" cy="1433.9" r="4.52"/>
<circle cx="1716.5" cy="1433.9" r="4.52"/>
<circle cx="1726.5" cy="1437.65" r="4.52"/>
<circle cx="1724.5" cy="1434.9" r="4.52"/>
<circle cx="1720.5" cy="1433.9" r="4.52"/>
<circle cx="1728.5" cy="1435.15" r="4.52"/>
<circle cx="1706.5" cy="1431.4" r="4.52"/>
<circle cx="1722.5" cy="1431.4" r="4.52"/>
<circle cx="1714.5" cy="1430.4" r="4.52"/>
</g>
<g stroke="#FF0066" stroke-width="4.65">
<rect x="1769.12" y="1315.68" width="9.25" height="9.25"/>
<rect x="1769.12" y="1362.28" width="9.25" height="9.25"/>
<rect x="1769.12" y="1374.78" width="9.25" height="9.25"/>
</g>
<g stroke="#FF0066" stroke-width="4.65" fill="#FF0066">
<rect x="1770.62" y="1390.03" width="9.25" height="9.25"/>
<rect x="1762.22" y="1397.28" width="9.25" height="9.25"/>
<rect x="1770.38" y="1402.28" width="9.25" height="9.25"/>
<rect x="1762.22" y="1413.78" width="9.25" height="9.25"/>
<rect x="1753.53" y="1418.28" width="9.25" height="9.25"/>
<rect x="1779.12" y="1424.78" width="9.25" height="9.25"/>
<rect x="1771.12" y="1422.78" width="9.25" height="9.25"/>
<rect x="1754.12" y="1432.78" width="9.25" height="9.25"/>
<rect x="1761.62" y="1432.28" width="9.25" height="9.25"/>
<rect x="1769.12" y="1432.78" width="9.25" height="9.25"/>
<rect x="1776.62" y="1432.28" width="9.25" height="9.25"/>
<rect x="1784.12" y="1432.78" width="9.25" height="9.25"/>
<rect x="1759.12" y="1426.78" width="9.25" height="9.25"/>
<rect x="1780.12" y="1429.78" width="9.25" height="9.25"/>
<rect x="1766.42" y="1393.66" width="9.25" height="9.25"/>
<rect x="1770.51" y="1396.16" width="9.25" height="9.25"/>
<rect x="1766.3" y="1399.78" width="9.25" height="9.25"/>
<rect x="1757.88" y="1416.03" width="9.25" height="9.25"/>
<rect x="1756.33" y="1422.53" width="9.25" height="9.25"/>
<rect x="1775.12" y="1423.78" width="9.25" height="9.25"/>
<rect x="1777.88" y="1428.53" width="9.25" height="9.25"/>
<rect x="1781.62" y="1428.78" width="9.25" height="9.25"/>
<rect x="1770.12" y="1427.78" width="9.25" height="9.25"/>
<rect x="1773.88" y="1427.53" width="9.25" height="9.25"/>
<rect x="1775.62" y="1426.28" width="9.25" height="9.25"/>
<rect x="1757.88" y="1432.53" width="9.25" height="9.25"/>
<rect x="1756.62" y="1429.78" width="9.25" height="9.25"/>
<rect x="1765.38" y="1432.53" width="9.25" height="9.25"/>
<rect x="1760.38" y="1429.53" width="9.25" height="9.25"/>
<rect x="1772.88" y="1432.53" width="9.25" height="9.25"/>
<rect x="1764.12" y="1429.78" width="9.25" height="9.25"/>
<rect x="1774.62" y="1431.28" width="9.25" height="9.25"/>
<rect x="1780.38" y="1432.53" width="9.25" height="9.25"/>
</g>
</g>
<g stroke="#000" stroke-width="2.1" fill="none">
<path d="M1378.25 1438.4H1419.25M1398.75 1433.5V1441.2M1388.25 1433.5H1409.25M1388.25 1441.2H1409.25"/>
<path d="M1437.25 1440.9H1478.25M1457.75 1435.3V1442.15M1447.25 1435.3H1468.25M1447.25 1442.15H1468.25"/>
<path d="M1536 1427.15H1577M1556.5 1415.3V1436.5M1546 1415.3H1567M1546 1436.5H1567"/>
<path d="M1595.5 1427.9H1636.5M1616 1398.5V1435.4M1605.5 1398.5H1626.5M1605.5 1435.4H1626.5"/>
<path d="M1694 1431H1735M1714.5 1415.3V1436.65M1704 1415.3H1725M1704 1436.65H1725"/>
<path d="M1753.25 1430H1794.25M1773.75 1401.5V1437.8M1763.25 1401.5H1784.25M1763.25 1437.8H1784.25"/>
</g>
<g stroke="#000" stroke-width="2.4" fill="none">
<path d="M1359.5 1123.4V1445M1340.2 1442.8H1817M1340.2 1379.28H1359.5M1340.2 1315.76H1359.5M1340.2 1252.24H1359.5M1340.2 1188.72H1359.5M1340.2 1125.2H1359.5M1428.25 1442.8V1461.8M1586.25 1442.8V1461.8M1744 1442.8V1461.8"/>
</g>
<g font-size="19.3" text-anchor="end">
<text transform="translate(1336.5 1450.5) scale(1 1.06)">0</text>
<text transform="translate(1336.5 1386.98) scale(1 1.06)">100</text>
<text transform="translate(1336.5 1323.46) scale(1 1.06)">200</text>
<text transform="translate(1336.5 1259.94) scale(1 1.06)">300</text>
<text transform="translate(1336.5 1196.42) scale(1 1.06)">400</text>
<text transform="translate(1336.5 1132.9) scale(1 1.06)">500</text>
</g>
<g font-size="19.2" text-anchor="middle">
<text transform="translate(1428.25 1483.7) scale(1 1.05)">D0</text>
<text transform="translate(1586.25 1483.7) scale(1 1.05)">D7</text>
<text transform="translate(1744 1483.7) scale(1 1.05)">D90+</text>
</g>
<text transform="translate(1585.6 1067) scale(1 1.02)" font-size="22.3" text-anchor="middle" font-weight="bold" letter-spacing="1.15">Membrane</text>
<path d="M381.8 96.1V87.8H540.7V96.1" stroke="#000" stroke-width="2.1" fill="none" stroke-linejoin="miter"/>
<text x="461.25" y="84.2" font-size="15.4" text-anchor="middle" letter-spacing="0.47">p = 0.0031</text>
<path d="M440.2 71.3V63H598.8V71.3" stroke="#000" stroke-width="2.1" fill="none" stroke-linejoin="miter"/>
<text x="519.5" y="59.4" font-size="15.4" text-anchor="middle" letter-spacing="0.47">p = 0.0302</text>
<path d="M970.2 143.3V135H1129.3V143.3" stroke="#000" stroke-width="2.1" fill="none" stroke-linejoin="miter"/>
<text x="1049.75" y="131.4" font-size="15.4" text-anchor="middle" letter-spacing="0.47">p = 0.0031</text>
<path d="M1028.8 114.05V105.75H1187.5V114.05" stroke="#000" stroke-width="2.1" fill="none" stroke-linejoin="miter"/>
<text x="1108.15" y="102.15" font-size="15.4" text-anchor="middle" letter-spacing="0.47">p = 0.0052</text>
<path d="M383.25 623.3V615H542.5V623.3" stroke="#000" stroke-width="2.1" fill="none" stroke-linejoin="miter"/>
<text x="462.88" y="611.4" font-size="15.4" text-anchor="middle" letter-spacing="0.47">p = 0.0295</text>
<path d="M1397.5 678.3V670H1556.25V678.3" stroke="#000" stroke-width="2.1" fill="none" stroke-linejoin="miter"/>
<text x="1476.88" y="666.4" font-size="15.4" text-anchor="middle" letter-spacing="0.47">p = 0.006</text>
<path d="M1455.75 651.55V643.25H1615V651.55" stroke="#000" stroke-width="2.1" fill="none" stroke-linejoin="miter"/>
<text x="1535.38" y="639.65" font-size="15.4" text-anchor="middle" letter-spacing="0.47">p = 0.0001</text>
<path d="M1455.75 628.8V620.5H1773.75V628.8" stroke="#000" stroke-width="2.1" fill="none" stroke-linejoin="miter"/>
<text x="1614.75" y="616.9" font-size="15.4" text-anchor="middle" letter-spacing="0.47">p = 0.0029</text>
<path d="M383.25 1131.55V1123.25H542.5V1131.55" stroke="#000" stroke-width="2.1" fill="none" stroke-linejoin="miter"/>
<text x="462.88" y="1119.65" font-size="15.4" text-anchor="middle" letter-spacing="0.47">p = 0.0419</text>
<path d="M971.25 1141.3V1133H1130V1141.3" stroke="#000" stroke-width="2.1" fill="none" stroke-linejoin="miter"/>
<text x="1050.62" y="1129.4" font-size="15.4" text-anchor="middle" letter-spacing="0.47">p = 0.0435</text>
<path d="M1398.25 1198.8V1190.5H1557V1198.8" stroke="#000" stroke-width="2.1" fill="none" stroke-linejoin="miter"/>
<text x="1477.62" y="1186.9" font-size="15.4" text-anchor="middle" letter-spacing="0.47">p = 0.0314</text>
<path d="M1456.5 1171.55V1163.25H1615.5V1171.55" stroke="#000" stroke-width="2.1" fill="none" stroke-linejoin="miter"/>
<text x="1536" y="1159.65" font-size="15.4" text-anchor="middle" letter-spacing="0.47">p = 0.0023</text>
<path d="M1456.25 1146.3V1138H1774.25V1146.3" stroke="#000" stroke-width="2.1" fill="none" stroke-linejoin="miter"/>
<text x="1615.25" y="1134.4" font-size="15.4" text-anchor="middle" letter-spacing="0.47">p = 0.0097</text>
<text transform="translate(-0.8 30.2) scale(1 1.06)" font-size="40.6" font-weight="bold" letter-spacing="0.35">A. IFN-<tspan dx="-1.8">γ</tspan></text>
<text transform="translate(-0.4 549.7) scale(1 1.06)" font-size="40.6" font-weight="bold" letter-spacing="0.4">B. IL-2</text>
<text transform="translate(-1.2 1067) scale(1 1.06)" font-size="40.6" font-weight="bold" letter-spacing="0.42">C. IFN-<tspan dx="-1.8">γ</tspan> + IL-2</text>
<circle cx="1884" cy="757.4" r="4.52" fill="none" stroke="#666666" stroke-width="4.75"/>
<rect x="1879.38" y="799.98" width="9.25" height="9.25" fill="none" stroke="#FF0066" stroke-width="4.65"/>
<text transform="translate(1933.6 768.9) scale(1 1.02)" font-size="32.9" letter-spacing="-0.35">Placebo</text>
<text transform="translate(1934.6 816.7) scale(1 1.03)" font-size="32.2" letter-spacing="-1">IFN<tspan dx="-1.9">-</tspan><tspan dx="-0.7">λ</tspan></text>
</svg>
</body>
</html>
